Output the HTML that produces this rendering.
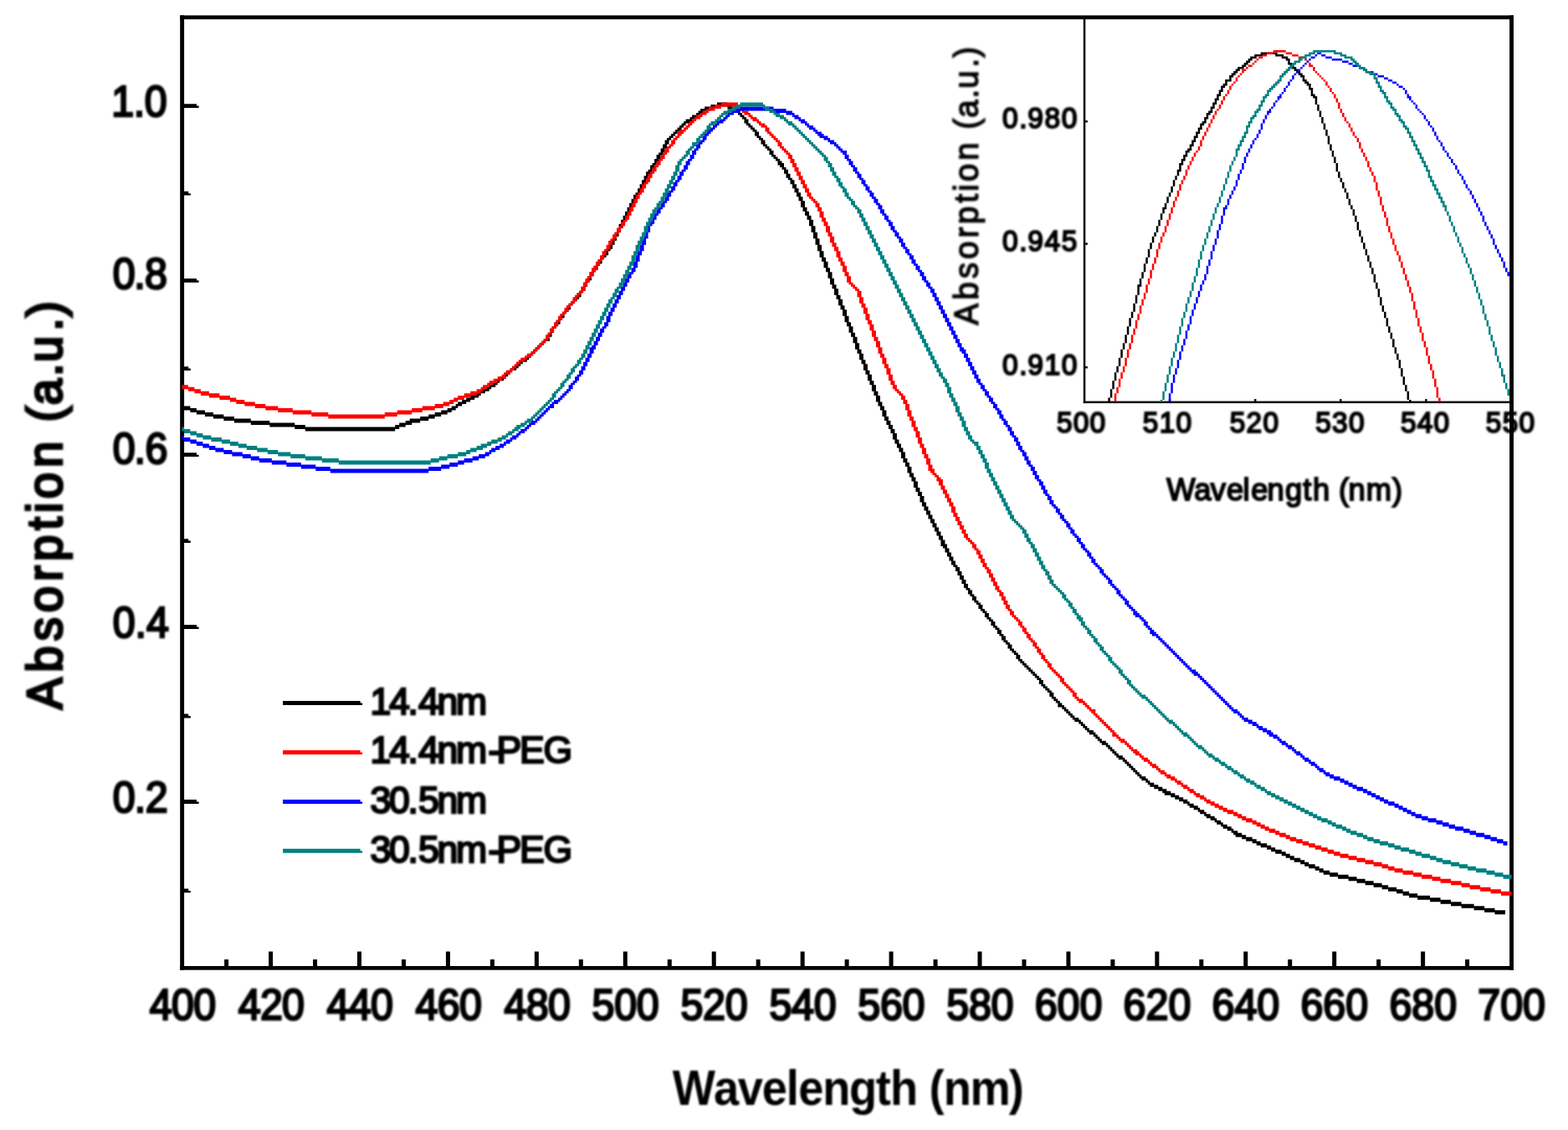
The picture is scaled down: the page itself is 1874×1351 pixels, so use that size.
<!DOCTYPE html>
<html lang="en"><head><meta charset="utf-8"><title>Absorption spectra</title>
<style>
html,body{margin:0;padding:0;background:#fff;}
body{width:1874px;height:1351px;overflow:hidden;}
svg{display:block;}
text{font-family:"Liberation Sans",sans-serif;fill:#000;}
</style></head><body>
<svg width="1874" height="1351" viewBox="0 0 1874 1351">
<rect width="1874" height="1351" fill="#fff"/>
<g>
<rect x="215.2" y="18.4" width="4.9" height="1141.3" fill="#000"/>
<rect x="1804.1" y="18.4" width="4.9" height="1141.3" fill="#000"/>
<rect x="215.2" y="18.4" width="1593.8" height="4.7" fill="#000"/>
<rect x="215.2" y="1155" width="1593.8" height="4.7" fill="#000"/>
<rect x="268.11" y="1147.1" width="5" height="8.4" fill="#000"/>
<rect x="321.08" y="1137.6" width="5" height="17.9" fill="#000"/>
<rect x="374.04" y="1147.1" width="5" height="8.4" fill="#000"/>
<rect x="427" y="1137.6" width="5" height="17.9" fill="#000"/>
<rect x="479.97" y="1147.1" width="5" height="8.4" fill="#000"/>
<rect x="532.93" y="1137.6" width="5" height="17.9" fill="#000"/>
<rect x="585.89" y="1147.1" width="5" height="8.4" fill="#000"/>
<rect x="638.86" y="1137.6" width="5" height="17.9" fill="#000"/>
<rect x="691.82" y="1147.1" width="5" height="8.4" fill="#000"/>
<rect x="744.78" y="1137.6" width="5" height="17.9" fill="#000"/>
<rect x="797.75" y="1147.1" width="5" height="8.4" fill="#000"/>
<rect x="850.71" y="1137.6" width="5" height="17.9" fill="#000"/>
<rect x="903.67" y="1147.1" width="5" height="8.4" fill="#000"/>
<rect x="956.64" y="1137.6" width="5" height="17.9" fill="#000"/>
<rect x="1009.6" y="1147.1" width="5" height="8.4" fill="#000"/>
<rect x="1062.56" y="1137.6" width="5" height="17.9" fill="#000"/>
<rect x="1115.53" y="1147.1" width="5" height="8.4" fill="#000"/>
<rect x="1168.49" y="1137.6" width="5" height="17.9" fill="#000"/>
<rect x="1221.45" y="1147.1" width="5" height="8.4" fill="#000"/>
<rect x="1274.42" y="1137.6" width="5" height="17.9" fill="#000"/>
<rect x="1327.38" y="1147.1" width="5" height="8.4" fill="#000"/>
<rect x="1380.34" y="1137.6" width="5" height="17.9" fill="#000"/>
<rect x="1433.31" y="1147.1" width="5" height="8.4" fill="#000"/>
<rect x="1486.27" y="1137.6" width="5" height="17.9" fill="#000"/>
<rect x="1539.23" y="1147.1" width="5" height="8.4" fill="#000"/>
<rect x="1592.2" y="1137.6" width="5" height="17.9" fill="#000"/>
<rect x="1645.16" y="1147.1" width="5" height="8.4" fill="#000"/>
<rect x="1698.12" y="1137.6" width="5" height="17.9" fill="#000"/>
<rect x="1751.09" y="1147.1" width="5" height="8.4" fill="#000"/>
<path fill="#000" d="M219.6 124.2 L235 124.2 L235 126.6 L237.6 126.6 L237.6 129 L219.6 129 z"/>
<path fill="#000" d="M219.6 228.8 L225.2 228.8 L225.2 231.2 L227.8 231.2 L227.8 233.6 L219.6 233.6 z"/>
<path fill="#000" d="M219.6 332.9 L235 332.9 L235 335.3 L237.6 335.3 L237.6 337.7 L219.6 337.7 z"/>
<path fill="#000" d="M219.6 438.2 L225.2 438.2 L225.2 440.6 L227.8 440.6 L227.8 443 L219.6 443 z"/>
<path fill="#000" d="M219.6 541.3 L235 541.3 L235 543.7 L237.6 543.7 L237.6 546.1 L219.6 546.1 z"/>
<path fill="#000" d="M219.6 644.2 L225.2 644.2 L225.2 646.6 L227.8 646.6 L227.8 649 L219.6 649 z"/>
<path fill="#000" d="M219.6 747.1 L235 747.1 L235 749.5 L237.6 749.5 L237.6 751.9 L219.6 751.9 z"/>
<path fill="#000" d="M219.6 853.6 L225.2 853.6 L225.2 856 L227.8 856 L227.8 858.4 L219.6 858.4 z"/>
<path fill="#000" d="M219.6 956.1 L235 956.1 L235 958.5 L237.6 958.5 L237.6 960.9 L219.6 960.9 z"/>
<path fill="#000" d="M219.6 1062.5 L225.2 1062.5 L225.2 1064.9 L227.8 1064.9 L227.8 1067.3 L219.6 1067.3 z"/>
<path fill="#000000" d="M217.4 485.4H227.4V487.9H217.4zM217.4 487.9H234.9V490.4H217.4zM227.4 490.4H244.9V492.9H227.4zM234.9 492.9H254.9V495.4H234.9zM244.9 495.4H267.4V497.9H244.9zM254.9 497.9H279.9V500.4H254.9zM267.4 500.4H299.8V502.9H267.4zM279.9 502.9H322.3V505.4H279.9zM299.8 505.4H352.3V507.9H299.8zM322.3 507.9H364.8V510.4H322.3zM352.3 510.4H477.2V512.9H352.3zM364.8 512.9H472.2V515.4H364.8zM472.2 507.9H484.7V510.4H472.2zM477.2 505.4H492.2V507.9H477.2zM484.7 502.9H502.2V505.4H484.7zM489.7 500.4H512.2V502.9H489.7zM502.2 497.9H519.7V500.4H502.2zM512.2 495.4H527.2V497.9H512.2zM519.7 492.9H534.7V495.4H519.7zM527.2 490.4H539.7V492.9H527.2zM534.7 487.9H544.7V490.4H534.7zM539.7 485.4H547.2V487.9H539.7zM544.7 482.9H552.2V485.4H544.7zM547.2 480.4H557.2V482.9H547.2zM552.2 477.9H562.2V480.4H552.2zM557.2 475.4H567.2V477.9H557.2zM562.2 472.9H572.2V475.4H562.2zM567.2 470.3H574.7V472.9H567.2zM572.2 467.8H579.7V470.3H572.2zM574.7 465.3H584.7V467.8H574.7zM579.7 462.8H587.2V465.3H579.7zM584.7 460.3H592.2V462.8H584.7zM587.2 457.8H594.7V460.3H587.2zM592.2 455.3H597.2V457.8H592.2zM594.7 452.8H602.2V455.3H594.7zM597.2 450.3H604.7V452.8H597.2zM602.2 447.8H607.2V450.3H602.2zM604.7 445.3H609.7V447.8H604.7zM607.2 442.8H612.2V445.3H607.2zM609.7 440.3H617.2V442.8H609.7zM612.2 437.8H619.7V440.3H612.2zM617.2 435.3H622.2V437.8H617.2zM617.2 432.8H624.7V435.3H617.2zM622.2 430.3H629.7V432.8H622.2zM624.7 427.8H632.2V430.3H624.7zM629.7 425.3H634.7V427.8H629.7zM632.2 422.8H637.2V425.3H632.2zM634.7 420.3H639.7V422.8H634.7zM637.2 417.8H642.2V420.3H637.2zM639.7 415.3H644.7V417.8H639.7zM642.2 412.8H647.2V415.3H642.2zM644.7 410.3H649.7V412.8H644.7zM647.2 407.8H652.2V410.3H647.2zM649.7 405.3H657.1V407.8H649.7zM652.2 402.8H657.1V405.3H652.2zM654.7 397.8H659.6V402.8H654.7zM657.1 392.8H662.1V397.8H657.1zM659.6 390.3H664.6V392.8H659.6zM662.1 387.8H667.1V390.3H662.1zM664.6 382.8H669.6V387.8H664.6zM667.1 380.3H672.1V382.8H667.1zM669.6 375.3H674.6V380.3H669.6zM672.1 372.8H677.1V375.3H672.1zM674.6 370.3H679.6V372.8H674.6zM677.1 365.3H682.1V370.3H677.1zM679.6 362.8H684.6V365.3H679.6zM682.1 360.3H687.1V362.8H682.1zM684.6 357.8H689.6V360.3H684.6zM687.1 355.3H692.1V357.8H687.1zM689.6 350.3H694.6V355.3H689.6zM692.1 347.8H697.1V350.3H692.1zM694.6 342.8H699.6V347.8H694.6zM697.1 337.8H702.1V342.8H697.1zM699.6 335.2H704.6V337.8H699.6zM702.1 330.2H707.1V335.2H702.1zM704.6 325.2H709.6V330.2H704.6zM707.1 322.7H712.1V325.2H707.1zM709.6 317.7H714.6V322.7H709.6zM712.1 315.2H717.1V317.7H712.1zM714.6 310.2H719.6V315.2H714.6zM717.1 307.7H722.1V310.2H717.1zM719.6 305.2H724.6V307.7H719.6zM722.1 300.2H727.1V305.2H722.1zM724.6 297.7H729.6V300.2H724.6zM727.1 292.7H732.1V297.7H727.1zM729.6 287.7H734.6V292.7H729.6zM732.1 282.7H737.1V287.7H732.1zM734.6 277.7H739.6V282.7H734.6zM737.1 272.7H742.1V277.7H737.1zM739.6 267.7H744.6V272.7H739.6zM742.1 262.7H747.1V267.7H742.1zM744.6 257.7H749.6V262.7H744.6zM747.1 252.7H752.1V257.7H747.1zM749.6 247.7H754.6V252.7H749.6zM752.1 242.7H757.1V247.7H752.1zM754.6 237.7H759.6V242.7H754.6zM757.1 232.7H762.1V237.7H757.1zM759.6 230.2H764.6V232.7H759.6zM762.1 225.2H767.1V230.2H762.1zM764.6 220.2H769.6V225.2H764.6zM767.1 215.2H772.1V220.2H767.1zM769.6 210.2H774.6V215.2H769.6zM772.1 207.7H777.1V210.2H772.1zM772.1 205.2H779.6V207.7H772.1zM774.6 202.7H779.6V205.2H774.6zM777.1 197.6H782.1V202.7H777.1zM779.6 195.1H784.6V197.6H779.6zM782.1 190.1H787.1V195.1H782.1zM784.6 185.1H789.6V190.1H784.6zM787.1 182.6H792.1V185.1H787.1zM789.6 177.6H794.6V182.6H789.6zM792.1 172.6H797.1V177.6H792.1zM794.6 167.6H799.6V172.6H794.6zM797.1 165.1H802.1V167.6H797.1zM799.6 162.6H804.6V165.1H799.6zM802.1 160.1H807.1V162.6H802.1zM804.6 157.6H809.6V160.1H804.6zM807.1 155.1H812.1V157.6H807.1zM809.6 152.6H814.6V155.1H809.6zM812.1 150.1H817.1V152.6H812.1zM814.6 147.6H819.6V150.1H814.6zM817.1 145.1H824.6V147.6H817.1zM819.6 142.6H827.1V145.1H819.6zM824.6 140.1H832.1V142.6H824.6zM827.1 137.6H834.6V140.1H827.1zM832.1 135.1H837.1V137.6H832.1zM834.6 132.6H842.1V135.1H834.6zM837.1 130.1H849.5V132.6H837.1zM842.1 127.6H857.0V130.1H842.1zM849.5 125.1H874.5V127.6H849.5zM857.0 122.6H869.5V125.1H857.0zM869.5 127.6H879.5V130.1H869.5zM874.5 130.1H882.0V132.6H874.5zM879.5 132.6H884.5V135.1H879.5zM882.0 135.1H887.0V137.6H882.0zM884.5 137.6H889.5V140.1H884.5zM887.0 140.1H892.0V142.6H887.0zM889.5 142.6H894.5V147.6H889.5zM892.0 147.6H897.0V150.1H892.0zM894.5 150.1H899.5V152.6H894.5zM897.0 152.6H902.0V155.1H897.0zM899.5 155.1H904.5V157.6H899.5zM902.0 157.6H907.0V162.6H902.0zM904.5 162.6H909.5V165.1H904.5zM907.0 165.1H912.0V167.6H907.0zM909.5 167.6H914.5V172.6H909.5zM912.0 172.6H917.0V175.1H912.0zM914.5 175.1H919.5V177.6H914.5zM917.0 177.6H922.0V180.1H917.0zM919.5 180.1H924.5V185.1H919.5zM922.0 185.1H927.0V187.6H922.0zM924.5 187.6H929.5V190.1H924.5zM927.0 190.1H932.0V192.6H927.0zM929.5 192.6H934.5V195.1H929.5zM929.5 195.1H937.0V197.6H929.5zM932.0 197.6H937.0V200.1H932.0zM934.5 200.1H939.5V202.7H934.5zM937.0 202.7H942.0V207.7H937.0zM939.5 207.7H944.5V212.7H939.5zM942.0 212.7H947.0V215.2H942.0zM944.5 215.2H949.5V220.2H944.5zM947.0 220.2H952.0V225.2H947.0zM949.5 225.2H954.5V230.2H949.5zM952.0 230.2H957.0V235.2H952.0zM954.5 235.2H959.5V240.2H954.5zM957.0 240.2H962.0V247.7H957.0zM959.5 247.7H964.5V252.7H959.5zM962.0 252.7H967.0V257.7H962.0zM964.5 257.7H969.5V262.7H964.5zM967.0 262.7H972.0V270.2H967.0zM969.5 270.2H974.5V277.7H969.5zM972.0 277.7H977.0V285.2H972.0zM974.5 285.2H979.5V292.7H974.5zM977.0 292.7H982.0V300.2H977.0zM979.5 300.2H984.5V307.7H979.5zM982.0 307.7H987.0V312.7H982.0zM984.5 312.7H989.5V320.2H984.5zM987.0 320.2H992.0V325.2H987.0zM989.5 325.2H994.5V332.7H989.5zM992.0 332.7H997.0V340.3H992.0zM994.5 340.3H999.5V345.3H994.5zM997.0 345.3H1002.0V352.8H997.0zM999.5 352.8H1004.5V357.8H999.5zM1002.0 357.8H1007.0V365.3H1002.0zM1004.5 365.3H1009.5V370.3H1004.5zM1007.0 370.3H1012.0V377.8H1007.0zM1009.5 377.8H1014.5V385.3H1009.5zM1012.0 385.3H1017.0V390.3H1012.0zM1014.5 390.3H1019.5V397.8H1014.5zM1017.0 397.8H1022.0V402.8H1017.0zM1019.5 402.8H1024.5V410.3H1019.5zM1022.0 410.3H1027.0V417.8H1022.0zM1024.5 417.8H1029.5V422.8H1024.5zM1027.0 422.8H1031.9V430.3H1027.0zM1029.5 430.3H1034.4V435.3H1029.5zM1031.9 435.3H1036.9V442.8H1031.9zM1034.4 442.8H1039.4V447.8H1034.4zM1036.9 447.8H1041.9V455.3H1036.9zM1039.4 455.3H1044.4V460.3H1039.4zM1041.9 460.3H1046.9V467.8H1041.9zM1044.4 467.8H1049.4V472.9H1044.4zM1046.9 472.9H1051.9V480.4H1046.9zM1049.4 480.4H1054.4V485.4H1049.4zM1051.9 485.4H1056.9V490.4H1051.9zM1054.4 490.4H1059.4V497.9H1054.4zM1056.9 497.9H1061.9V502.9H1056.9zM1059.4 502.9H1064.4V507.9H1059.4zM1061.9 507.9H1066.9V512.9H1061.9zM1064.4 512.9H1069.4V517.9H1064.4zM1066.9 517.9H1071.9V525.4H1066.9zM1069.4 525.4H1074.4V530.4H1069.4zM1071.9 530.4H1076.9V535.4H1071.9zM1074.4 535.4H1079.4V540.4H1074.4zM1076.9 540.4H1081.9V547.9H1076.9zM1079.4 547.9H1084.4V552.9H1079.4zM1081.9 552.9H1086.9V557.9H1081.9zM1084.4 557.9H1089.4V565.4H1084.4zM1086.9 565.4H1091.9V570.4H1086.9zM1089.4 570.4H1094.4V575.4H1089.4zM1091.9 575.4H1096.9V582.9H1091.9zM1094.4 582.9H1099.4V587.9H1094.4zM1096.9 587.9H1101.9V592.9H1096.9zM1099.4 592.9H1104.4V600.4H1099.4zM1101.9 600.4H1106.9V605.4H1101.9zM1104.4 605.4H1109.4V610.5H1104.4zM1106.9 610.5H1111.9V615.5H1106.9zM1109.4 615.5H1114.4V620.5H1109.4zM1111.9 620.5H1116.9V625.5H1111.9zM1114.4 625.5H1119.4V630.5H1114.4zM1116.9 630.5H1121.9V635.5H1116.9zM1119.4 635.5H1124.4V640.5H1119.4zM1121.9 640.5H1126.9V645.5H1121.9zM1124.4 645.5H1129.4V650.5H1124.4zM1124.4 650.5H1131.9V653.0H1124.4zM1126.9 653.0H1131.9V655.5H1126.9zM1129.4 655.5H1134.4V660.5H1129.4zM1131.9 660.5H1136.9V665.5H1131.9zM1134.4 665.5H1139.4V670.5H1134.4zM1136.9 670.5H1141.9V675.5H1136.9zM1139.4 675.5H1144.4V678.0H1139.4zM1141.9 678.0H1146.9V683.0H1141.9zM1144.4 683.0H1149.4V688.0H1144.4zM1146.9 688.0H1151.9V693.0H1146.9zM1149.4 693.0H1154.4V698.0H1149.4zM1151.9 698.0H1156.9V703.0H1151.9zM1154.4 703.0H1159.4V705.5H1154.4zM1156.9 705.5H1161.9V710.5H1156.9zM1159.4 710.5H1164.4V713.0H1159.4zM1161.9 713.0H1166.9V718.0H1161.9zM1164.4 718.0H1169.4V720.5H1164.4zM1166.9 720.5H1171.9V723.0H1166.9zM1169.4 723.0H1174.4V728.0H1169.4zM1171.9 728.0H1176.9V730.5H1171.9zM1174.4 730.5H1179.4V733.0H1174.4zM1176.9 733.0H1181.9V738.0H1176.9zM1179.4 738.0H1184.4V740.5H1179.4zM1181.9 740.5H1186.9V743.1H1181.9zM1184.4 743.1H1189.4V748.1H1184.4zM1186.9 748.1H1191.9V750.6H1186.9zM1189.4 750.6H1194.4V753.1H1189.4zM1191.9 753.1H1196.9V758.1H1191.9zM1194.4 758.1H1199.4V760.6H1194.4zM1196.9 760.6H1201.9V765.6H1196.9zM1199.4 765.6H1204.4V768.1H1199.4zM1201.9 768.1H1206.9V770.6H1201.9zM1204.4 770.6H1209.4V775.6H1204.4zM1206.9 775.6H1211.9V778.1H1206.9zM1209.4 778.1H1214.4V780.6H1209.4zM1211.9 780.6H1216.9V783.1H1211.9zM1214.4 783.1H1219.3V788.1H1214.4zM1216.9 788.1H1221.8V790.6H1216.9zM1219.3 790.6H1224.3V793.1H1219.3zM1221.8 793.1H1226.8V795.6H1221.8zM1224.3 795.6H1229.3V798.1H1224.3zM1226.8 798.1H1231.8V800.6H1226.8zM1229.3 800.6H1234.3V803.1H1229.3zM1231.8 803.1H1236.8V805.6H1231.8zM1234.3 805.6H1239.3V808.1H1234.3zM1236.8 808.1H1241.8V810.6H1236.8zM1239.3 810.6H1244.3V813.1H1239.3zM1241.8 813.1H1246.8V818.1H1241.8zM1244.3 818.1H1249.3V820.6H1244.3zM1246.8 820.6H1251.8V823.1H1246.8zM1249.3 823.1H1254.3V825.6H1249.3zM1251.8 825.6H1256.8V828.1H1251.8zM1254.3 828.1H1259.3V833.1H1254.3zM1256.8 833.1H1261.8V835.6H1256.8zM1259.3 835.6H1264.3V838.1H1259.3zM1261.8 838.1H1266.8V840.6H1261.8zM1264.3 840.6H1269.3V843.1H1264.3zM1264.3 843.1H1271.8V845.6H1264.3zM1269.3 845.6H1274.3V848.1H1269.3zM1271.8 848.1H1276.8V850.6H1271.8zM1274.3 850.6H1279.3V853.1H1274.3zM1276.8 853.1H1281.8V855.6H1276.8zM1279.3 855.6H1284.3V858.1H1279.3zM1281.8 858.1H1289.3V860.6H1281.8zM1284.3 860.6H1291.8V863.1H1284.3zM1289.3 863.1H1294.3V865.6H1289.3zM1291.8 865.6H1296.8V868.1H1291.8zM1294.3 868.1H1299.3V870.6H1294.3zM1296.8 870.6H1301.8V873.1H1296.8zM1299.3 873.1H1306.8V875.6H1299.3zM1301.8 875.6H1309.3V878.2H1301.8zM1306.8 878.2H1311.8V880.7H1306.8zM1309.3 880.7H1314.3V883.2H1309.3zM1311.8 883.2H1316.8V885.7H1311.8zM1314.3 885.7H1321.8V888.2H1314.3zM1316.8 888.2H1324.3V890.7H1316.8zM1321.8 890.7H1326.8V893.2H1321.8zM1324.3 893.2H1329.3V895.7H1324.3zM1326.8 895.7H1331.8V898.2H1326.8zM1329.3 898.2H1334.3V900.7H1329.3zM1331.8 900.7H1336.8V903.2H1331.8zM1334.3 903.2H1341.8V905.7H1334.3zM1336.8 905.7H1344.3V908.2H1336.8zM1341.8 908.2H1346.8V910.7H1341.8zM1344.3 910.7H1349.3V913.2H1344.3zM1346.8 913.2H1351.8V915.7H1346.8zM1349.3 915.7H1354.3V918.2H1349.3zM1351.8 918.2H1356.8V920.7H1351.8zM1354.3 920.7H1359.3V923.2H1354.3zM1356.8 923.2H1361.8V925.7H1356.8zM1359.3 925.7H1364.3V928.2H1359.3zM1361.8 928.2H1369.3V930.7H1361.8zM1364.3 930.7H1371.8V933.2H1364.3zM1369.3 933.2H1374.3V935.7H1369.3zM1371.8 935.7H1379.3V938.2H1371.8zM1374.3 938.2H1384.3V940.7H1374.3zM1379.3 940.7H1389.3V943.2H1379.3zM1384.3 943.2H1394.3V945.7H1384.3zM1389.3 945.7H1399.3V948.2H1389.3zM1391.8 948.2H1404.3V950.7H1391.8zM1399.3 950.7H1409.2V953.2H1399.3zM1404.3 953.2H1414.2V955.7H1404.3zM1409.2 955.7H1419.2V958.2H1409.2zM1414.2 958.2H1421.7V960.7H1414.2zM1419.2 960.7H1426.7V963.2H1419.2zM1421.7 963.2H1431.7V965.7H1421.7zM1426.7 965.7H1434.2V968.2H1426.7zM1431.7 968.2H1439.2V970.7H1431.7zM1434.2 970.7H1441.7V973.2H1434.2zM1439.2 973.2H1446.7V975.7H1439.2zM1441.7 975.7H1451.7V978.2H1441.7zM1446.7 978.2H1454.2V980.7H1446.7zM1451.7 980.7H1459.2V983.2H1451.7zM1454.2 983.2H1461.7V985.7H1454.2zM1459.2 985.7H1466.7V988.2H1459.2zM1461.7 988.2H1471.7V990.7H1461.7zM1466.7 990.7H1474.2V993.2H1466.7zM1471.7 993.2H1479.2V995.7H1471.7zM1474.2 995.7H1484.2V998.2H1474.2zM1476.7 998.2H1489.2V1000.7H1476.7zM1484.2 1000.7H1496.7V1003.2H1484.2zM1489.2 1003.2H1501.7V1005.7H1489.2zM1496.7 1005.7H1506.7V1008.2H1496.7zM1501.7 1008.2H1514.2V1010.7H1501.7zM1506.7 1010.7H1519.2V1013.3H1506.7zM1514.2 1013.3H1524.2V1015.8H1514.2zM1519.2 1015.8H1531.7V1018.3H1519.2zM1524.2 1018.3H1536.7V1020.8H1524.2zM1531.7 1020.8H1541.7V1023.3H1531.7zM1536.7 1023.3H1546.7V1025.8H1536.7zM1541.7 1025.8H1554.2V1028.3H1541.7zM1546.7 1028.3H1559.2V1030.8H1546.7zM1554.2 1030.8H1564.2V1033.3H1554.2zM1559.2 1033.3H1571.7V1035.8H1559.2zM1564.2 1035.8H1576.7V1038.3H1564.2zM1571.7 1038.3H1581.7V1040.8H1571.7zM1576.7 1040.8H1589.2V1043.3H1576.7zM1581.7 1043.3H1599.1V1045.8H1581.7zM1589.2 1045.8H1611.6V1048.3H1589.2zM1599.1 1048.3H1621.6V1050.8H1599.1zM1611.6 1050.8H1631.6V1053.3H1611.6zM1621.6 1053.3H1641.6V1055.8H1621.6zM1631.6 1055.8H1651.6V1058.3H1631.6zM1641.6 1058.3H1659.1V1060.8H1641.6zM1651.6 1060.8H1669.1V1063.3H1651.6zM1659.1 1063.3H1676.6V1065.8H1659.1zM1669.1 1065.8H1684.1V1068.3H1669.1zM1676.6 1068.3H1694.1V1070.8H1676.6zM1684.1 1070.8H1709.1V1073.3H1684.1zM1694.1 1073.3H1721.6V1075.8H1694.1zM1709.1 1075.8H1734.1V1078.3H1709.1zM1721.6 1078.3H1746.6V1080.8H1721.6zM1734.1 1080.8H1761.6V1083.3H1734.1zM1746.6 1083.3H1774.1V1085.8H1746.6zM1761.6 1085.8H1786.5V1088.3H1761.6zM1774.1 1088.3H1799.0V1090.8H1774.1zM1786.5 1090.8H1799.0V1093.3H1786.5z"/>
<path fill="#ff0000" d="M217.4 460.3H224.9V462.8H217.4zM217.4 462.8H232.4V465.3H217.4zM224.9 465.3H239.9V467.8H224.9zM232.4 467.8H249.9V470.3H232.4zM239.9 470.3H262.4V472.9H239.9zM249.9 472.9H274.9V475.4H249.9zM262.4 475.4H282.3V477.9H262.4zM274.9 477.9H292.3V480.4H274.9zM282.3 480.4H304.8V482.9H282.3zM292.3 482.9H317.3V485.4H292.3zM304.8 485.4H332.3V487.9H304.8zM317.3 487.9H349.8V490.4H317.3zM332.3 490.4H372.3V492.9H332.3zM349.8 492.9H392.3V495.4H349.8zM372.3 495.4H474.7V497.9H372.3zM392.3 497.9H459.8V500.4H392.3zM459.8 492.9H492.2V495.4H459.8zM474.7 490.4H504.7V492.9H474.7zM492.2 487.9H519.7V490.4H492.2zM504.7 485.4H529.7V487.9H504.7zM519.7 482.9H537.2V485.4H519.7zM529.7 480.4H542.2V482.9H529.7zM537.2 477.9H547.2V480.4H537.2zM542.2 475.4H554.7V477.9H542.2zM547.2 472.9H562.2V475.4H547.2zM554.7 470.3H569.7V472.9H554.7zM562.2 467.8H574.7V470.3H562.2zM569.7 465.3H577.2V467.8H569.7zM574.7 462.8H582.2V465.3H574.7zM577.2 460.3H584.7V462.8H577.2zM582.2 457.8H589.7V460.3H582.2zM584.7 455.3H594.7V457.8H584.7zM589.7 452.8H599.7V455.3H589.7zM594.7 450.3H604.7V452.8H594.7zM599.7 447.8H604.7V450.3H599.7zM602.2 445.3H609.7V447.8H602.2zM604.7 442.8H612.2V445.3H604.7zM609.7 440.3H614.7V442.8H609.7zM612.2 437.8H617.2V440.3H612.2zM614.7 435.3H619.7V437.8H614.7zM617.2 432.8H622.2V435.3H617.2zM619.7 430.3H627.2V432.8H619.7zM622.2 427.8H629.7V430.3H622.2zM627.2 425.3H634.7V427.8H627.2zM629.7 422.8H637.2V425.3H629.7zM634.7 420.3H639.7V422.8H634.7zM637.2 417.8H642.2V420.3H637.2zM639.7 415.3H644.7V417.8H639.7zM642.2 412.8H647.2V415.3H642.2zM644.7 410.3H649.7V412.8H644.7zM647.2 407.8H652.2V410.3H647.2zM649.7 405.3H654.7V407.8H649.7zM652.2 400.3H657.1V405.3H652.2zM654.7 397.8H659.6V400.3H654.7zM657.1 392.8H662.1V397.8H657.1zM659.6 390.3H664.6V392.8H659.6zM662.1 385.3H667.1V390.3H662.1zM664.6 382.8H669.6V385.3H664.6zM667.1 377.8H672.1V382.8H667.1zM669.6 375.3H674.6V377.8H669.6zM672.1 372.8H677.1V375.3H672.1zM674.6 367.8H679.6V372.8H674.6zM677.1 365.3H682.1V367.8H677.1zM679.6 362.8H684.6V365.3H679.6zM682.1 360.3H687.1V362.8H682.1zM684.6 355.3H689.6V360.3H684.6zM687.1 352.8H692.1V355.3H687.1zM689.6 350.3H694.6V352.8H689.6zM692.1 347.8H697.1V350.3H692.1zM694.6 342.8H699.6V347.8H694.6zM697.1 337.8H702.1V342.8H697.1zM699.6 332.7H704.6V337.8H699.6zM702.1 330.2H707.1V332.7H702.1zM704.6 325.2H709.6V330.2H704.6zM707.1 322.7H712.1V325.2H707.1zM707.1 320.2H714.6V322.7H707.1zM709.6 317.7H714.6V320.2H709.6zM712.1 312.7H717.1V317.7H712.1zM714.6 310.2H719.6V312.7H714.6zM717.1 305.2H722.1V310.2H717.1zM719.6 300.2H724.6V305.2H719.6zM722.1 297.7H727.1V300.2H722.1zM724.6 292.7H729.6V297.7H724.6zM727.1 287.7H732.1V292.7H727.1zM729.6 285.2H734.6V287.7H729.6zM732.1 280.2H737.1V285.2H732.1zM734.6 277.7H739.6V280.2H734.6zM737.1 272.7H742.1V277.7H737.1zM739.6 270.2H744.6V272.7H739.6zM742.1 265.2H747.1V270.2H742.1zM744.6 262.7H749.6V265.2H744.6zM747.1 257.7H752.1V262.7H747.1zM749.6 252.7H754.6V257.7H749.6zM752.1 247.7H757.1V252.7H752.1zM754.6 242.7H759.6V247.7H754.6zM757.1 237.7H762.1V242.7H757.1zM759.6 232.7H764.6V237.7H759.6zM762.1 230.2H767.1V232.7H762.1zM764.6 225.2H769.6V230.2H764.6zM767.1 220.2H772.1V225.2H767.1zM769.6 217.7H774.6V220.2H769.6zM772.1 212.7H777.1V217.7H772.1zM774.6 207.7H779.6V212.7H774.6zM777.1 205.2H782.1V207.7H777.1zM779.6 200.1H784.6V205.2H779.6zM782.1 197.6H787.1V200.1H782.1zM784.6 192.6H789.6V197.6H784.6zM787.1 190.1H792.1V192.6H787.1zM789.6 185.1H794.6V190.1H789.6zM792.1 182.6H797.1V185.1H792.1zM794.6 177.6H799.6V182.6H794.6zM797.1 175.1H802.1V177.6H797.1zM799.6 172.6H804.6V175.1H799.6zM802.1 167.6H807.1V172.6H802.1zM804.6 165.1H809.6V167.6H804.6zM807.1 162.6H812.1V165.1H807.1zM809.6 160.1H814.6V162.6H809.6zM809.6 157.6H817.1V160.1H809.6zM812.1 155.1H819.6V157.6H812.1zM817.1 152.6H822.1V155.1H817.1zM819.6 150.1H824.6V152.6H819.6zM822.1 147.6H827.1V150.1H822.1zM824.6 145.1H829.6V147.6H824.6zM827.1 142.6H832.1V145.1H827.1zM829.6 140.1H837.1V142.6H829.6zM832.1 137.6H839.6V140.1H832.1zM837.1 135.1H844.5V137.6H837.1zM839.6 132.6H847.0V135.1H839.6zM844.5 130.1H854.5V132.6H844.5zM847.0 127.6H862.0V130.1H847.0zM854.5 125.1H884.5V127.6H854.5zM862.0 122.6H882.0V125.1H862.0zM879.5 127.6H887.0V130.1H879.5zM884.5 130.1H889.5V132.6H884.5zM887.0 132.6H894.5V135.1H887.0zM889.5 135.1H897.0V137.6H889.5zM894.5 137.6H899.5V140.1H894.5zM897.0 140.1H904.5V142.6H897.0zM899.5 142.6H907.0V145.1H899.5zM904.5 145.1H909.5V147.6H904.5zM907.0 147.6H914.5V150.1H907.0zM909.5 150.1H917.0V152.6H909.5zM914.5 152.6H919.5V157.6H914.5zM917.0 157.6H922.0V160.1H917.0zM919.5 160.1H924.5V162.6H919.5zM922.0 162.6H927.0V165.1H922.0zM924.5 165.1H929.5V167.6H924.5zM927.0 167.6H932.0V170.1H927.0zM929.5 170.1H934.5V175.1H929.5zM932.0 175.1H937.0V177.6H932.0zM934.5 177.6H939.5V180.1H934.5zM937.0 180.1H942.0V182.6H937.0zM939.5 182.6H944.5V185.1H939.5zM942.0 185.1H947.0V190.1H942.0zM944.5 190.1H949.5V195.1H944.5zM947.0 195.1H952.0V200.1H947.0zM949.5 200.1H954.5V205.2H949.5zM952.0 205.2H957.0V210.2H952.0zM954.5 210.2H959.5V215.2H954.5zM957.0 215.2H962.0V220.2H957.0zM959.5 220.2H964.5V225.2H959.5zM962.0 225.2H967.0V230.2H962.0zM964.5 230.2H969.5V235.2H964.5zM967.0 235.2H972.0V237.7H967.0zM969.5 237.7H974.5V240.2H969.5zM972.0 240.2H977.0V242.7H972.0zM974.5 242.7H979.5V247.7H974.5zM977.0 247.7H982.0V252.7H977.0zM979.5 252.7H984.5V260.2H979.5zM982.0 260.2H987.0V265.2H982.0zM984.5 265.2H989.5V270.2H984.5zM987.0 270.2H992.0V277.7H987.0zM989.5 277.7H994.5V282.7H989.5zM992.0 282.7H997.0V290.2H992.0zM994.5 290.2H999.5V295.2H994.5zM997.0 295.2H1002.0V300.2H997.0zM999.5 300.2H1004.5V307.7H999.5zM1002.0 307.7H1007.0V312.7H1002.0zM1004.5 312.7H1009.5V317.7H1004.5zM1007.0 317.7H1012.0V325.2H1007.0zM1009.5 325.2H1014.5V330.2H1009.5zM1012.0 330.2H1017.0V337.8H1012.0zM1014.5 337.8H1019.5V340.3H1014.5zM1017.0 340.3H1022.0V342.8H1017.0zM1019.5 342.8H1024.5V345.3H1019.5zM1022.0 345.3H1027.0V347.8H1022.0zM1024.5 347.8H1029.5V355.3H1024.5zM1027.0 355.3H1031.9V362.8H1027.0zM1029.5 362.8H1034.4V367.8H1029.5zM1031.9 367.8H1036.9V375.3H1031.9zM1034.4 375.3H1039.4V382.8H1034.4zM1036.9 382.8H1041.9V387.8H1036.9zM1039.4 387.8H1044.4V395.3H1039.4zM1041.9 395.3H1046.9V402.8H1041.9zM1044.4 402.8H1049.4V407.8H1044.4zM1046.9 407.8H1051.9V415.3H1046.9zM1049.4 415.3H1054.4V422.8H1049.4zM1051.9 422.8H1056.9V427.8H1051.9zM1054.4 427.8H1059.4V435.3H1054.4zM1056.9 435.3H1061.9V440.3H1056.9zM1059.4 440.3H1064.4V447.8H1059.4zM1061.9 447.8H1066.9V455.3H1061.9zM1064.4 455.3H1069.4V460.3H1064.4zM1066.9 460.3H1071.9V465.3H1066.9zM1069.4 465.3H1074.4V467.8H1069.4zM1071.9 467.8H1076.9V470.3H1071.9zM1074.4 470.3H1079.4V472.9H1074.4zM1076.9 472.9H1081.9V477.9H1076.9zM1079.4 477.9H1084.4V482.9H1079.4zM1081.9 482.9H1086.9V490.4H1081.9zM1084.4 490.4H1089.4V497.9H1084.4zM1086.9 497.9H1091.9V502.9H1086.9zM1089.4 502.9H1094.4V510.4H1089.4zM1091.9 510.4H1096.9V515.4H1091.9zM1094.4 515.4H1099.4V522.9H1094.4zM1096.9 522.9H1101.9V530.4H1096.9zM1099.4 530.4H1104.4V535.4H1099.4zM1101.9 535.4H1106.9V542.9H1101.9zM1104.4 542.9H1109.4V547.9H1104.4zM1106.9 547.9H1111.9V555.4H1106.9zM1109.4 555.4H1114.4V560.4H1109.4zM1109.4 560.4H1116.9V562.9H1109.4zM1111.9 562.9H1116.9V565.4H1111.9zM1114.4 565.4H1119.4V567.9H1114.4zM1116.9 567.9H1121.9V570.4H1116.9zM1119.4 570.4H1124.4V572.9H1119.4zM1119.4 572.9H1126.9V575.4H1119.4zM1121.9 575.4H1126.9V580.4H1121.9zM1124.4 580.4H1129.4V585.4H1124.4zM1126.9 585.4H1131.9V590.4H1126.9zM1129.4 590.4H1134.4V595.4H1129.4zM1131.9 595.4H1136.9V600.4H1131.9zM1134.4 600.4H1139.4V605.4H1134.4zM1136.9 605.4H1141.9V613.0H1136.9zM1139.4 613.0H1144.4V618.0H1139.4zM1141.9 618.0H1146.9V623.0H1141.9zM1144.4 623.0H1149.4V628.0H1144.4zM1146.9 628.0H1151.9V633.0H1146.9zM1149.4 633.0H1154.4V638.0H1149.4zM1151.9 638.0H1156.9V643.0H1151.9zM1154.4 643.0H1159.4V645.5H1154.4zM1156.9 645.5H1161.9V648.0H1156.9zM1159.4 648.0H1164.4V650.5H1159.4zM1161.9 650.5H1166.9V655.5H1161.9zM1164.4 655.5H1169.4V658.0H1164.4zM1166.9 658.0H1171.9V663.0H1166.9zM1169.4 663.0H1174.4V668.0H1169.4zM1171.9 668.0H1176.9V673.0H1171.9zM1174.4 673.0H1179.4V678.0H1174.4zM1176.9 678.0H1181.9V680.5H1176.9zM1179.4 680.5H1184.4V685.5H1179.4zM1181.9 685.5H1186.9V690.5H1181.9zM1184.4 690.5H1189.4V695.5H1184.4zM1186.9 695.5H1191.9V700.5H1186.9zM1189.4 700.5H1194.4V705.5H1189.4zM1191.9 705.5H1196.9V708.0H1191.9zM1194.4 708.0H1199.4V713.0H1194.4zM1196.9 713.0H1201.9V718.0H1196.9zM1199.4 718.0H1204.4V723.0H1199.4zM1201.9 723.0H1206.9V728.0H1201.9zM1204.4 728.0H1209.4V730.5H1204.4zM1206.9 730.5H1211.9V735.5H1206.9zM1209.4 735.5H1214.4V738.0H1209.4zM1211.9 738.0H1216.9V740.5H1211.9zM1214.4 740.5H1219.3V743.1H1214.4zM1216.9 743.1H1221.8V748.1H1216.9zM1219.3 748.1H1224.3V750.6H1219.3zM1221.8 750.6H1226.8V755.6H1221.8zM1224.3 755.6H1229.3V758.1H1224.3zM1226.8 758.1H1231.8V763.1H1226.8zM1229.3 763.1H1234.3V765.6H1229.3zM1231.8 765.6H1236.8V768.1H1231.8zM1234.3 768.1H1239.3V773.1H1234.3zM1236.8 773.1H1241.8V775.6H1236.8zM1239.3 775.6H1244.3V780.6H1239.3zM1241.8 780.6H1246.8V783.1H1241.8zM1244.3 783.1H1249.3V788.1H1244.3zM1246.8 788.1H1251.8V790.6H1246.8zM1249.3 790.6H1254.3V793.1H1249.3zM1251.8 793.1H1256.8V798.1H1251.8zM1254.3 798.1H1259.3V800.6H1254.3zM1256.8 800.6H1261.8V803.1H1256.8zM1259.3 803.1H1264.3V805.6H1259.3zM1261.8 805.6H1266.8V808.1H1261.8zM1264.3 808.1H1269.3V810.6H1264.3zM1266.8 810.6H1271.8V815.6H1266.8zM1269.3 815.6H1274.3V818.1H1269.3zM1271.8 818.1H1276.8V820.6H1271.8zM1274.3 820.6H1279.3V823.1H1274.3zM1276.8 823.1H1281.8V825.6H1276.8zM1279.3 825.6H1284.3V828.1H1279.3zM1281.8 828.1H1286.8V833.1H1281.8zM1284.3 833.1H1289.3V835.6H1284.3zM1286.8 835.6H1294.3V838.1H1286.8zM1289.3 838.1H1296.8V840.6H1289.3zM1294.3 840.6H1299.3V843.1H1294.3zM1296.8 843.1H1301.8V845.6H1296.8zM1299.3 845.6H1304.3V848.1H1299.3zM1301.8 848.1H1309.3V850.6H1301.8zM1304.3 850.6H1309.3V853.1H1304.3zM1306.8 853.1H1311.8V855.6H1306.8zM1309.3 855.6H1314.3V858.1H1309.3zM1311.8 858.1H1316.8V860.6H1311.8zM1314.3 860.6H1319.3V863.1H1314.3zM1316.8 863.1H1321.8V865.6H1316.8zM1319.3 865.6H1324.3V868.1H1319.3zM1321.8 868.1H1326.8V870.6H1321.8zM1324.3 870.6H1329.3V873.1H1324.3zM1326.8 873.1H1331.8V875.6H1326.8zM1329.3 875.6H1334.3V878.2H1329.3zM1329.3 878.2H1336.8V880.7H1329.3zM1334.3 880.7H1339.3V883.2H1334.3zM1336.8 883.2H1344.3V885.7H1336.8zM1339.3 885.7H1346.8V888.2H1339.3zM1344.3 888.2H1349.3V890.7H1344.3zM1346.8 890.7H1351.8V893.2H1346.8zM1349.3 893.2H1354.3V895.7H1349.3zM1351.8 895.7H1359.3V898.2H1351.8zM1354.3 898.2H1361.8V900.7H1354.3zM1356.8 900.7H1364.3V903.2H1356.8zM1361.8 903.2H1366.8V905.7H1361.8zM1364.3 905.7H1371.8V908.2H1364.3zM1366.8 908.2H1374.3V910.7H1366.8zM1371.8 910.7H1376.8V913.2H1371.8zM1374.3 913.2H1381.8V915.7H1374.3zM1376.8 915.7H1384.3V918.2H1376.8zM1381.8 918.2H1386.8V920.7H1381.8zM1384.3 920.7H1391.8V923.2H1384.3zM1386.8 923.2H1394.3V925.7H1386.8zM1391.8 925.7H1399.3V928.2H1391.8zM1394.3 928.2H1404.3V930.7H1394.3zM1399.3 930.7H1406.7V933.2H1399.3zM1404.3 933.2H1411.7V935.7H1404.3zM1406.7 935.7H1414.2V938.2H1406.7zM1411.7 938.2H1419.2V940.7H1411.7zM1414.2 940.7H1421.7V943.2H1414.2zM1419.2 943.2H1426.7V945.7H1419.2zM1421.7 945.7H1429.2V948.2H1421.7zM1426.7 948.2H1434.2V950.7H1426.7zM1429.2 950.7H1439.2V953.2H1429.2zM1434.2 953.2H1441.7V955.7H1434.2zM1439.2 955.7H1446.7V958.2H1439.2zM1441.7 958.2H1451.7V960.7H1441.7zM1446.7 960.7H1456.7V963.2H1446.7zM1451.7 963.2H1461.7V965.7H1451.7zM1456.7 965.7H1466.7V968.2H1456.7zM1461.7 968.2H1474.2V970.7H1461.7zM1466.7 970.7H1479.2V973.2H1466.7zM1474.2 973.2H1484.2V975.7H1474.2zM1479.2 975.7H1489.2V978.2H1479.2zM1484.2 978.2H1496.7V980.7H1484.2zM1489.2 980.7H1501.7V983.2H1489.2zM1496.7 983.2H1506.7V985.7H1496.7zM1501.7 985.7H1511.7V988.2H1501.7zM1506.7 988.2H1516.7V990.7H1506.7zM1511.7 990.7H1524.2V993.2H1511.7zM1516.7 993.2H1529.2V995.7H1516.7zM1524.2 995.7H1536.7V998.2H1524.2zM1529.2 998.2H1541.7V1000.7H1529.2zM1536.7 1000.7H1549.2V1003.2H1536.7zM1541.7 1003.2H1556.7V1005.7H1541.7zM1549.2 1005.7H1564.2V1008.2H1549.2zM1556.7 1008.2H1571.7V1010.7H1556.7zM1564.2 1010.7H1579.2V1013.3H1564.2zM1571.7 1013.3H1586.7V1015.8H1571.7zM1579.2 1015.8H1594.1V1018.3H1579.2zM1586.7 1018.3H1601.6V1020.8H1586.7zM1594.1 1020.8H1611.6V1023.3H1594.1zM1601.6 1023.3H1621.6V1025.8H1601.6zM1611.6 1025.8H1631.6V1028.3H1611.6zM1621.6 1028.3H1641.6V1030.8H1621.6zM1631.6 1030.8H1651.6V1033.3H1631.6zM1641.6 1033.3H1659.1V1035.8H1641.6zM1651.6 1035.8H1666.6V1038.3H1651.6zM1659.1 1038.3H1676.6V1040.8H1659.1zM1666.6 1040.8H1689.1V1043.3H1666.6zM1676.6 1043.3H1699.1V1045.8H1676.6zM1689.1 1045.8H1711.6V1048.3H1689.1zM1699.1 1048.3H1721.6V1050.8H1699.1zM1711.6 1050.8H1734.1V1053.3H1711.6zM1721.6 1053.3H1746.6V1055.8H1721.6zM1734.1 1055.8H1756.6V1058.3H1734.1zM1746.6 1058.3H1769.1V1060.8H1746.6zM1756.6 1060.8H1781.5V1063.3H1756.6zM1769.1 1063.3H1794.0V1065.8H1769.1zM1781.5 1065.8H1806.5V1068.3H1781.5zM1794.0 1068.3H1806.5V1070.8H1794.0z"/>
<path fill="#0000ff" d="M217.4 520.4H219.9V522.9H217.4zM217.4 522.9H227.4V525.4H217.4zM219.9 525.4H234.9V527.9H219.9zM227.4 527.9H242.4V530.4H227.4zM234.9 530.4H249.9V532.9H234.9zM242.4 532.9H257.4V535.4H242.4zM249.9 535.4H267.4V537.9H249.9zM257.4 537.9H277.4V540.4H257.4zM267.4 540.4H289.8V542.9H267.4zM277.4 542.9H299.8V545.4H277.4zM289.8 545.4H309.8V547.9H289.8zM299.8 547.9H324.8V550.4H299.8zM309.8 550.4H342.3V552.9H309.8zM324.8 552.9H359.8V555.4H324.8zM342.3 555.4H377.3V557.9H342.3zM359.8 557.9H394.8V560.4H359.8zM377.3 560.4H527.2V562.9H377.3zM394.8 562.9H512.2V565.4H394.8zM512.2 557.9H537.2V560.4H512.2zM527.2 555.4H547.2V557.9H527.2zM537.2 552.9H554.7V555.4H537.2zM547.2 550.4H564.7V552.9H547.2zM554.7 547.9H572.2V550.4H554.7zM564.7 545.4H579.7V547.9H564.7zM572.2 542.9H584.7V545.4H572.2zM579.7 540.4H587.2V542.9H579.7zM584.7 537.9H592.2V540.4H584.7zM587.2 535.4H597.2V537.9H587.2zM592.2 532.9H602.2V535.4H592.2zM597.2 530.4H604.7V532.9H597.2zM602.2 527.9H609.7V530.4H602.2zM604.7 525.4H612.2V527.9H604.7zM609.7 522.9H617.2V525.4H609.7zM612.2 520.4H619.7V522.9H612.2zM617.2 517.9H622.2V520.4H617.2zM619.7 515.4H627.2V517.9H619.7zM622.2 512.9H629.7V515.4H622.2zM627.2 510.4H632.2V512.9H627.2zM629.7 507.9H634.7V510.4H629.7zM632.2 505.4H639.7V507.9H632.2zM634.7 502.9H642.2V505.4H634.7zM639.7 500.4H644.7V502.9H639.7zM642.2 497.9H647.2V500.4H642.2zM644.7 495.4H649.7V497.9H644.7zM647.2 492.9H652.2V495.4H647.2zM649.7 490.4H654.7V492.9H649.7zM652.2 487.9H657.1V490.4H652.2zM654.7 485.4H662.1V487.9H654.7zM657.1 482.9H662.1V485.4H657.1zM659.6 480.4H667.1V482.9H659.6zM662.1 477.9H669.6V480.4H662.1zM667.1 475.4H672.1V477.9H667.1zM669.6 472.9H674.6V475.4H669.6zM672.1 470.3H677.1V472.9H672.1zM674.6 467.8H679.6V470.3H674.6zM677.1 465.3H682.1V467.8H677.1zM679.6 460.3H684.6V465.3H679.6zM682.1 457.8H687.1V460.3H682.1zM684.6 455.3H689.6V457.8H684.6zM687.1 450.3H692.1V455.3H687.1zM689.6 447.8H694.6V450.3H689.6zM692.1 442.8H697.1V447.8H692.1zM694.6 437.8H699.6V442.8H694.6zM697.1 432.8H702.1V437.8H697.1zM699.6 427.8H704.6V432.8H699.6zM702.1 422.8H707.1V427.8H702.1zM704.6 417.8H709.6V422.8H704.6zM704.6 415.3H712.1V417.8H704.6zM707.1 412.8H712.1V415.3H707.1zM709.6 407.8H714.6V412.8H709.6zM712.1 402.8H717.1V407.8H712.1zM714.6 397.8H719.6V402.8H714.6zM717.1 392.8H722.1V397.8H717.1zM719.6 390.3H724.6V392.8H719.6zM722.1 385.3H727.1V390.3H722.1zM724.6 377.8H729.6V385.3H724.6zM727.1 372.8H732.1V377.8H727.1zM729.6 367.8H734.6V372.8H729.6zM732.1 362.8H737.1V367.8H732.1zM734.6 357.8H739.6V362.8H734.6zM737.1 352.8H742.1V357.8H737.1zM739.6 347.8H744.6V352.8H739.6zM742.1 342.8H747.1V347.8H742.1zM744.6 337.8H749.6V342.8H744.6zM747.1 332.7H752.1V337.8H747.1zM749.6 327.7H754.6V332.7H749.6zM752.1 325.2H757.1V327.7H752.1zM754.6 320.2H759.6V325.2H754.6zM757.1 312.7H762.1V320.2H757.1zM759.6 305.2H764.6V312.7H759.6zM762.1 300.2H767.1V305.2H762.1zM764.6 292.7H769.6V300.2H764.6zM767.1 285.2H772.1V292.7H767.1zM769.6 277.7H774.6V285.2H769.6zM772.1 270.2H777.1V277.7H772.1zM774.6 267.7H779.6V270.2H774.6zM777.1 262.7H782.1V267.7H777.1zM779.6 257.7H784.6V262.7H779.6zM782.1 255.2H787.1V257.7H782.1zM784.6 250.2H789.6V255.2H784.6zM787.1 247.7H792.1V250.2H787.1zM789.6 242.7H794.6V247.7H789.6zM792.1 240.2H797.1V242.7H792.1zM794.6 235.2H799.6V240.2H794.6zM797.1 230.2H802.1V235.2H797.1zM799.6 227.7H804.6V230.2H799.6zM802.1 222.7H807.1V227.7H802.1zM804.6 217.7H809.6V222.7H804.6zM807.1 215.2H812.1V217.7H807.1zM809.6 210.2H814.6V215.2H809.6zM812.1 205.2H817.1V210.2H812.1zM814.6 202.7H819.6V205.2H814.6zM817.1 197.6H822.1V202.7H817.1zM819.6 192.6H824.6V197.6H819.6zM822.1 190.1H827.1V192.6H822.1zM824.6 185.1H829.6V190.1H824.6zM827.1 180.1H832.1V185.1H827.1zM829.6 177.6H834.6V180.1H829.6zM832.1 172.6H837.1V177.6H832.1zM834.6 170.1H839.6V172.6H834.6zM837.1 167.6H842.1V170.1H837.1zM839.6 162.6H844.5V167.6H839.6zM842.1 160.1H847.0V162.6H842.1zM844.5 157.6H849.5V160.1H844.5zM844.5 155.1H852.0V157.6H844.5zM847.0 152.6H854.5V155.1H847.0zM852.0 150.1H857.0V152.6H852.0zM854.5 147.6H859.5V150.1H854.5zM857.0 145.1H864.5V147.6H857.0zM859.5 142.6H867.0V145.1H859.5zM864.5 140.1H869.5V142.6H864.5zM867.0 137.6H872.0V140.1H867.0zM869.5 135.1H877.0V137.6H869.5zM872.0 132.6H884.5V135.1H872.0zM877.0 130.1H939.5V132.6H877.0zM884.5 127.6H924.5V130.1H884.5zM924.5 132.6H947.0V135.1H924.5zM939.5 135.1H949.5V137.6H939.5zM947.0 137.6H954.5V140.1H947.0zM949.5 140.1H957.0V142.6H949.5zM954.5 142.6H962.0V145.1H954.5zM957.0 145.1H964.5V147.6H957.0zM962.0 147.6H967.0V150.1H962.0zM964.5 150.1H972.0V152.6H964.5zM967.0 152.6H974.5V155.1H967.0zM972.0 155.1H977.0V157.6H972.0zM974.5 157.6H982.0V160.1H974.5zM977.0 160.1H984.5V162.6H977.0zM979.5 162.6H989.5V165.1H979.5zM984.5 165.1H992.0V167.6H984.5zM989.5 167.6H997.0V170.1H989.5zM992.0 170.1H999.5V172.6H992.0zM997.0 172.6H1002.0V175.1H997.0zM999.5 175.1H1004.5V177.6H999.5zM1002.0 177.6H1007.0V180.1H1002.0zM1004.5 180.1H1012.0V182.6H1004.5zM1007.0 182.6H1012.0V185.1H1007.0zM1009.5 185.1H1014.5V190.1H1009.5zM1012.0 190.1H1017.0V192.6H1012.0zM1014.5 192.6H1019.5V197.6H1014.5zM1017.0 197.6H1022.0V200.1H1017.0zM1019.5 200.1H1024.5V205.2H1019.5zM1022.0 205.2H1027.0V207.7H1022.0zM1024.5 207.7H1029.5V212.7H1024.5zM1027.0 212.7H1031.9V215.2H1027.0zM1029.5 215.2H1034.4V220.2H1029.5zM1031.9 220.2H1036.9V222.7H1031.9zM1034.4 222.7H1039.4V227.7H1034.4zM1036.9 227.7H1041.9V230.2H1036.9zM1039.4 230.2H1044.4V235.2H1039.4zM1041.9 235.2H1046.9V237.7H1041.9zM1044.4 237.7H1049.4V242.7H1044.4zM1046.9 242.7H1051.9V245.2H1046.9zM1049.4 245.2H1054.4V250.2H1049.4zM1051.9 250.2H1056.9V255.2H1051.9zM1054.4 255.2H1059.4V257.7H1054.4zM1056.9 257.7H1061.9V262.7H1056.9zM1059.4 262.7H1064.4V265.2H1059.4zM1061.9 265.2H1066.9V270.2H1061.9zM1064.4 270.2H1069.4V275.2H1064.4zM1066.9 275.2H1071.9V277.7H1066.9zM1069.4 277.7H1074.4V282.7H1069.4zM1071.9 282.7H1076.9V285.2H1071.9zM1074.4 285.2H1079.4V290.2H1074.4zM1076.9 290.2H1081.9V295.2H1076.9zM1079.4 295.2H1084.4V297.7H1079.4zM1081.9 297.7H1086.9V302.7H1081.9zM1084.4 302.7H1089.4V305.2H1084.4zM1086.9 305.2H1091.9V310.2H1086.9zM1089.4 310.2H1094.4V315.2H1089.4zM1091.9 315.2H1096.9V317.7H1091.9zM1094.4 317.7H1099.4V322.7H1094.4zM1096.9 322.7H1101.9V325.2H1096.9zM1099.4 325.2H1104.4V330.2H1099.4zM1101.9 330.2H1106.9V335.2H1101.9zM1104.4 335.2H1109.4V337.8H1104.4zM1106.9 337.8H1111.9V342.8H1106.9zM1109.4 342.8H1114.4V345.3H1109.4zM1111.9 345.3H1116.9V350.3H1111.9zM1114.4 350.3H1119.4V355.3H1114.4zM1116.9 355.3H1121.9V360.3H1116.9zM1119.4 360.3H1124.4V365.3H1119.4zM1121.9 365.3H1126.9V370.3H1121.9zM1124.4 370.3H1129.4V375.3H1124.4zM1126.9 375.3H1131.9V380.3H1126.9zM1129.4 380.3H1134.4V385.3H1129.4zM1131.9 385.3H1136.9V390.3H1131.9zM1134.4 390.3H1139.4V395.3H1134.4zM1136.9 395.3H1141.9V400.3H1136.9zM1139.4 400.3H1144.4V405.3H1139.4zM1141.9 405.3H1146.9V410.3H1141.9zM1144.4 410.3H1149.4V415.3H1144.4zM1146.9 415.3H1151.9V417.8H1146.9zM1146.9 417.8H1154.4V420.3H1146.9zM1149.4 420.3H1154.4V422.8H1149.4zM1151.9 422.8H1156.9V427.8H1151.9zM1154.4 427.8H1159.4V432.8H1154.4zM1156.9 432.8H1161.9V437.8H1156.9zM1159.4 437.8H1164.4V442.8H1159.4zM1161.9 442.8H1166.9V447.8H1161.9zM1164.4 447.8H1169.4V452.8H1164.4zM1166.9 452.8H1171.9V457.8H1166.9zM1169.4 457.8H1174.4V460.3H1169.4zM1171.9 460.3H1176.9V465.3H1171.9zM1174.4 465.3H1179.4V467.8H1174.4zM1176.9 467.8H1181.9V472.9H1176.9zM1179.4 472.9H1184.4V475.4H1179.4zM1181.9 475.4H1186.9V480.4H1181.9zM1184.4 480.4H1189.4V482.9H1184.4zM1186.9 482.9H1191.9V487.9H1186.9zM1189.4 487.9H1194.4V490.4H1189.4zM1191.9 490.4H1196.9V495.4H1191.9zM1194.4 495.4H1199.4V500.4H1194.4zM1196.9 500.4H1201.9V502.9H1196.9zM1199.4 502.9H1204.4V507.9H1199.4zM1201.9 507.9H1206.9V510.4H1201.9zM1204.4 510.4H1209.4V515.4H1204.4zM1206.9 515.4H1211.9V520.4H1206.9zM1209.4 520.4H1214.4V522.9H1209.4zM1211.9 522.9H1216.9V527.9H1211.9zM1214.4 527.9H1219.3V532.9H1214.4zM1216.9 532.9H1221.8V537.9H1216.9zM1219.3 537.9H1224.3V540.4H1219.3zM1221.8 540.4H1226.8V545.4H1221.8zM1224.3 545.4H1229.3V550.4H1224.3zM1226.8 550.4H1231.8V555.4H1226.8zM1229.3 555.4H1234.3V557.9H1229.3zM1231.8 557.9H1236.8V562.9H1231.8zM1234.3 562.9H1239.3V567.9H1234.3zM1236.8 567.9H1241.8V572.9H1236.8zM1239.3 572.9H1244.3V575.4H1239.3zM1241.8 575.4H1246.8V580.4H1241.8zM1244.3 580.4H1249.3V585.4H1244.3zM1246.8 585.4H1251.8V590.4H1246.8zM1249.3 590.4H1254.3V592.9H1249.3zM1251.8 592.9H1256.8V597.9H1251.8zM1254.3 597.9H1259.3V602.9H1254.3zM1256.8 602.9H1261.8V605.4H1256.8zM1259.3 605.4H1264.3V608.0H1259.3zM1261.8 608.0H1266.8V613.0H1261.8zM1264.3 613.0H1269.3V615.5H1264.3zM1266.8 615.5H1271.8V620.5H1266.8zM1269.3 620.5H1274.3V623.0H1269.3zM1271.8 623.0H1276.8V625.5H1271.8zM1274.3 625.5H1279.3V630.5H1274.3zM1276.8 630.5H1281.8V633.0H1276.8zM1279.3 633.0H1284.3V638.0H1279.3zM1281.8 638.0H1286.8V640.5H1281.8zM1284.3 640.5H1289.3V643.0H1284.3zM1286.8 643.0H1291.8V648.0H1286.8zM1289.3 648.0H1294.3V650.5H1289.3zM1291.8 650.5H1296.8V655.5H1291.8zM1294.3 655.5H1299.3V658.0H1294.3zM1296.8 658.0H1301.8V660.5H1296.8zM1299.3 660.5H1304.3V665.5H1299.3zM1301.8 665.5H1306.8V668.0H1301.8zM1304.3 668.0H1309.3V673.0H1304.3zM1306.8 673.0H1311.8V675.5H1306.8zM1309.3 675.5H1314.3V678.0H1309.3zM1311.8 678.0H1316.8V680.5H1311.8zM1314.3 680.5H1319.3V685.5H1314.3zM1316.8 685.5H1321.8V688.0H1316.8zM1319.3 688.0H1324.3V690.5H1319.3zM1321.8 690.5H1326.8V693.0H1321.8zM1324.3 693.0H1329.3V698.0H1324.3zM1326.8 698.0H1331.8V700.5H1326.8zM1329.3 700.5H1334.3V703.0H1329.3zM1331.8 703.0H1336.8V705.5H1331.8zM1334.3 705.5H1339.3V710.5H1334.3zM1336.8 710.5H1341.8V713.0H1336.8zM1339.3 713.0H1344.3V715.5H1339.3zM1341.8 715.5H1346.8V718.0H1341.8zM1344.3 718.0H1349.3V723.0H1344.3zM1346.8 723.0H1351.8V725.5H1346.8zM1349.3 725.5H1354.3V728.0H1349.3zM1351.8 728.0H1356.8V730.5H1351.8zM1354.3 730.5H1359.3V733.0H1354.3zM1354.3 733.0H1361.8V735.5H1354.3zM1356.8 735.5H1364.3V738.0H1356.8zM1361.8 738.0H1366.8V740.5H1361.8zM1364.3 740.5H1369.3V743.1H1364.3zM1366.8 743.1H1371.8V748.1H1366.8zM1369.3 748.1H1374.3V750.6H1369.3zM1371.8 750.6H1376.8V753.1H1371.8zM1374.3 753.1H1379.3V755.6H1374.3zM1374.3 755.6H1381.8V758.1H1374.3zM1376.8 758.1H1384.3V760.6H1376.8zM1381.8 760.6H1386.8V763.1H1381.8zM1384.3 763.1H1389.3V765.6H1384.3zM1386.8 765.6H1391.8V768.1H1386.8zM1389.3 768.1H1394.3V770.6H1389.3zM1391.8 770.6H1396.8V773.1H1391.8zM1394.3 773.1H1399.3V775.6H1394.3zM1396.8 775.6H1401.8V778.1H1396.8zM1399.3 778.1H1404.3V780.6H1399.3zM1401.8 780.6H1406.7V783.1H1401.8zM1404.3 783.1H1409.2V785.6H1404.3zM1406.7 785.6H1411.7V788.1H1406.7zM1409.2 788.1H1414.2V790.6H1409.2zM1411.7 790.6H1416.7V793.1H1411.7zM1414.2 793.1H1419.2V795.6H1414.2zM1416.7 795.6H1421.7V798.1H1416.7zM1419.2 798.1H1424.2V800.6H1419.2zM1421.7 800.6H1429.2V803.1H1421.7zM1424.2 803.1H1431.7V805.6H1424.2zM1426.7 805.6H1434.2V808.1H1426.7zM1431.7 808.1H1436.7V810.6H1431.7zM1434.2 810.6H1439.2V813.1H1434.2zM1436.7 813.1H1441.7V815.6H1436.7zM1439.2 815.6H1444.2V818.1H1439.2zM1441.7 818.1H1446.7V820.6H1441.7zM1444.2 820.6H1449.2V823.1H1444.2zM1446.7 823.1H1451.7V825.6H1446.7zM1449.2 825.6H1454.2V828.1H1449.2zM1451.7 828.1H1456.7V830.6H1451.7zM1454.2 830.6H1459.2V833.1H1454.2zM1456.7 833.1H1461.7V835.6H1456.7zM1459.2 835.6H1464.2V838.1H1459.2zM1461.7 838.1H1466.7V840.6H1461.7zM1464.2 840.6H1469.2V843.1H1464.2zM1466.7 843.1H1471.7V845.6H1466.7zM1469.2 845.6H1474.2V848.1H1469.2zM1471.7 848.1H1479.2V850.6H1471.7zM1474.2 850.6H1481.7V853.1H1474.2zM1479.2 853.1H1484.2V855.6H1479.2zM1481.7 855.6H1486.7V858.1H1481.7zM1484.2 858.1H1491.7V860.6H1484.2zM1486.7 860.6H1496.7V863.1H1486.7zM1491.7 863.1H1501.7V865.6H1491.7zM1496.7 865.6H1504.2V868.1H1496.7zM1501.7 868.1H1509.2V870.6H1501.7zM1504.2 870.6H1514.2V873.1H1504.2zM1509.2 873.1H1519.2V875.6H1509.2zM1514.2 875.6H1521.7V878.2H1514.2zM1516.7 878.2H1526.7V880.7H1516.7zM1521.7 880.7H1529.2V883.2H1521.7zM1526.7 883.2H1531.7V885.7H1526.7zM1529.2 885.7H1536.7V888.2H1529.2zM1531.7 888.2H1539.2V890.7H1531.7zM1536.7 890.7H1544.2V893.2H1536.7zM1539.2 893.2H1546.7V895.7H1539.2zM1544.2 895.7H1549.2V898.2H1544.2zM1546.7 898.2H1554.2V900.7H1546.7zM1549.2 900.7H1556.7V903.2H1549.2zM1554.2 903.2H1559.2V905.7H1554.2zM1556.7 905.7H1564.2V908.2H1556.7zM1559.2 908.2H1566.7V910.7H1559.2zM1564.2 910.7H1571.7V913.2H1564.2zM1566.7 913.2H1574.2V915.7H1566.7zM1571.7 915.7H1576.7V918.2H1571.7zM1574.2 918.2H1581.7V920.7H1574.2zM1576.7 920.7H1584.2V923.2H1576.7zM1581.7 923.2H1589.2V925.7H1581.7zM1584.2 925.7H1594.1V928.2H1584.2zM1589.2 928.2H1601.6V930.7H1589.2zM1594.1 930.7H1606.6V933.2H1594.1zM1601.6 933.2H1611.6V935.7H1601.6zM1606.6 935.7H1616.6V938.2H1606.6zM1611.6 938.2H1621.6V940.7H1611.6zM1616.6 940.7H1629.1V943.2H1616.6zM1621.6 943.2H1634.1V945.7H1621.6zM1629.1 945.7H1639.1V948.2H1629.1zM1634.1 948.2H1644.1V950.7H1634.1zM1639.1 950.7H1649.1V953.2H1639.1zM1644.1 953.2H1654.1V955.7H1644.1zM1649.1 955.7H1659.1V958.2H1649.1zM1654.1 958.2H1666.6V960.7H1654.1zM1659.1 960.7H1671.6V963.2H1659.1zM1666.6 963.2H1676.6V965.7H1666.6zM1671.6 965.7H1681.6V968.2H1671.6zM1676.6 968.2H1686.6V970.7H1676.6zM1681.6 970.7H1691.6V973.2H1681.6zM1686.6 973.2H1699.1V975.7H1686.6zM1691.6 975.7H1706.6V978.2H1691.6zM1699.1 978.2H1716.6V980.7H1699.1zM1706.6 980.7H1724.1V983.2H1706.6zM1716.6 983.2H1731.6V985.7H1716.6zM1724.1 985.7H1739.1V988.2H1724.1zM1731.6 988.2H1749.1V990.7H1731.6zM1739.1 990.7H1756.6V993.2H1739.1zM1749.1 993.2H1764.1V995.7H1749.1zM1756.6 995.7H1774.1V998.2H1756.6zM1764.1 998.2H1781.5V1000.7H1764.1zM1774.1 1000.7H1789.0V1003.2H1774.1zM1781.5 1003.2H1796.5V1005.7H1781.5zM1789.0 1005.7H1801.5V1008.2H1789.0zM1796.5 1008.2H1801.5V1010.7H1796.5z"/>
<path fill="#008080" d="M217.4 510.4H219.9V512.9H217.4zM217.4 512.9H227.4V515.4H217.4zM219.9 515.4H234.9V517.9H219.9zM227.4 517.9H242.4V520.4H227.4zM234.9 520.4H252.4V522.9H234.9zM242.4 522.9H264.9V525.4H242.4zM252.4 525.4H274.9V527.9H252.4zM264.9 527.9H284.8V530.4H264.9zM274.9 530.4H294.8V532.9H274.9zM284.8 532.9H307.3V535.4H284.8zM294.8 535.4H319.8V537.9H294.8zM307.3 537.9H332.3V540.4H307.3zM319.8 540.4H347.3V542.9H319.8zM332.3 542.9H364.8V545.4H332.3zM347.3 545.4H384.8V547.9H347.3zM364.8 547.9H404.8V550.4H364.8zM384.8 550.4H524.7V552.9H384.8zM404.8 552.9H514.7V555.4H404.8zM514.7 547.9H534.7V550.4H514.7zM524.7 545.4H547.2V547.9H524.7zM534.7 542.9H557.2V545.4H534.7zM547.2 540.4H562.2V542.9H547.2zM557.2 537.9H569.7V540.4H557.2zM562.2 535.4H577.2V537.9H562.2zM569.7 532.9H582.2V535.4H569.7zM574.7 530.4H587.2V532.9H574.7zM582.2 527.9H594.7V530.4H582.2zM587.2 525.4H599.7V527.9H587.2zM594.7 522.9H604.7V525.4H594.7zM599.7 520.4H607.2V522.9H599.7zM604.7 517.9H612.2V520.4H604.7zM607.2 515.4H614.7V517.9H607.2zM612.2 512.9H619.7V515.4H612.2zM614.7 510.4H622.2V512.9H614.7zM617.2 507.9H627.2V510.4H617.2zM622.2 505.4H629.7V507.9H622.2zM627.2 502.9H634.7V505.4H627.2zM629.7 500.4H637.2V502.9H629.7zM634.7 497.9H639.7V500.4H634.7zM637.2 495.4H642.2V497.9H637.2zM639.7 492.9H644.7V495.4H639.7zM642.2 490.4H647.2V492.9H642.2zM644.7 487.9H649.7V490.4H644.7zM647.2 485.4H652.2V487.9H647.2zM649.7 482.9H654.7V485.4H649.7zM652.2 480.4H657.1V482.9H652.2zM654.7 477.9H659.6V480.4H654.7zM657.1 475.4H662.1V477.9H657.1zM659.6 470.3H664.6V475.4H659.6zM662.1 467.8H667.1V470.3H662.1zM664.6 465.3H669.6V467.8H664.6zM667.1 462.8H672.1V465.3H667.1zM669.6 457.8H674.6V462.8H669.6zM672.1 455.3H677.1V457.8H672.1zM674.6 452.8H679.6V455.3H674.6zM677.1 447.8H682.1V452.8H677.1zM679.6 445.3H684.6V447.8H679.6zM682.1 440.3H687.1V445.3H682.1zM684.6 437.8H689.6V440.3H684.6zM687.1 435.3H692.1V437.8H687.1zM689.6 430.3H694.6V435.3H689.6zM692.1 427.8H697.1V430.3H692.1zM694.6 422.8H699.6V427.8H694.6zM697.1 417.8H702.1V422.8H697.1zM699.6 412.8H704.6V417.8H699.6zM702.1 407.8H707.1V412.8H702.1zM704.6 402.8H709.6V407.8H704.6zM707.1 397.8H712.1V402.8H707.1zM709.6 392.8H714.6V397.8H709.6zM712.1 387.8H717.1V392.8H712.1zM714.6 382.8H719.6V387.8H714.6zM717.1 377.8H722.1V382.8H717.1zM719.6 372.8H724.6V377.8H719.6zM722.1 367.8H727.1V372.8H722.1zM724.6 362.8H729.6V367.8H724.6zM727.1 357.8H732.1V362.8H727.1zM729.6 355.3H734.6V357.8H729.6zM732.1 350.3H737.1V355.3H732.1zM734.6 345.3H739.6V350.3H734.6zM737.1 342.8H742.1V345.3H737.1zM739.6 337.8H744.6V342.8H739.6zM742.1 332.7H747.1V337.8H742.1zM744.6 327.7H749.6V332.7H744.6zM747.1 322.7H752.1V327.7H747.1zM749.6 317.7H754.6V322.7H749.6zM752.1 312.7H757.1V317.7H752.1zM754.6 305.2H759.6V312.7H754.6zM757.1 300.2H762.1V305.2H757.1zM759.6 292.7H764.6V300.2H759.6zM762.1 287.7H767.1V292.7H762.1zM764.6 282.7H769.6V287.7H764.6zM767.1 277.7H772.1V282.7H767.1zM769.6 270.2H774.6V277.7H769.6zM772.1 265.2H777.1V270.2H772.1zM774.6 260.2H779.6V265.2H774.6zM777.1 255.2H782.1V260.2H777.1zM779.6 250.2H784.6V255.2H779.6zM782.1 247.7H787.1V250.2H782.1zM784.6 242.7H789.6V247.7H784.6zM787.1 240.2H792.1V242.7H787.1zM789.6 235.2H794.6V240.2H789.6zM792.1 230.2H797.1V235.2H792.1zM794.6 225.2H799.6V230.2H794.6zM797.1 220.2H802.1V225.2H797.1zM799.6 215.2H804.6V220.2H799.6zM802.1 210.2H807.1V215.2H802.1zM804.6 205.2H809.6V210.2H804.6zM807.1 197.6H812.1V205.2H807.1zM809.6 192.6H814.6V197.6H809.6zM812.1 190.1H817.1V192.6H812.1zM814.6 187.6H819.6V190.1H814.6zM817.1 185.1H822.1V187.6H817.1zM819.6 180.1H824.6V185.1H819.6zM822.1 177.6H827.1V180.1H822.1zM824.6 175.1H829.6V177.6H824.6zM827.1 172.6H832.1V175.1H827.1zM827.1 170.1H834.6V172.6H827.1zM832.1 165.1H837.1V170.1H832.1zM834.6 162.6H839.6V165.1H834.6zM837.1 160.1H842.1V162.6H837.1zM839.6 157.6H844.5V160.1H839.6zM842.1 155.1H847.0V157.6H842.1zM844.5 150.1H849.5V155.1H844.5zM847.0 147.6H854.5V150.1H847.0zM849.5 145.1H857.0V147.6H849.5zM854.5 142.6H859.5V145.1H854.5zM857.0 140.1H862.0V142.6H857.0zM859.5 137.6H864.5V140.1H859.5zM862.0 135.1H869.5V137.6H862.0zM864.5 132.6H874.5V135.1H864.5zM869.5 130.1H879.5V132.6H869.5zM874.5 127.6H884.5V130.1H874.5zM879.5 125.1H914.5V127.6H879.5zM884.5 122.6H912.0V125.1H884.5zM912.0 127.6H919.5V130.1H912.0zM914.5 130.1H924.5V132.6H914.5zM919.5 132.6H927.0V135.1H919.5zM924.5 135.1H932.0V137.6H924.5zM927.0 137.6H937.0V140.1H927.0zM932.0 140.1H939.5V142.6H932.0zM937.0 142.6H942.0V145.1H937.0zM939.5 145.1H947.0V147.6H939.5zM942.0 147.6H949.5V150.1H942.0zM947.0 150.1H952.0V152.6H947.0zM949.5 152.6H954.5V155.1H949.5zM952.0 155.1H957.0V157.6H952.0zM954.5 157.6H959.5V160.1H954.5zM957.0 160.1H962.0V162.6H957.0zM959.5 162.6H964.5V165.1H959.5zM962.0 165.1H967.0V167.6H962.0zM964.5 167.6H969.5V170.1H964.5zM967.0 170.1H972.0V172.6H967.0zM969.5 172.6H974.5V175.1H969.5zM972.0 175.1H977.0V177.6H972.0zM974.5 177.6H979.5V180.1H974.5zM977.0 180.1H982.0V182.6H977.0zM979.5 182.6H984.5V185.1H979.5zM982.0 185.1H987.0V187.6H982.0zM984.5 187.6H989.5V192.6H984.5zM987.0 192.6H992.0V195.1H987.0zM989.5 195.1H994.5V200.1H989.5zM992.0 200.1H997.0V205.2H992.0zM994.5 205.2H999.5V210.2H994.5zM997.0 210.2H1002.0V212.7H997.0zM999.5 212.7H1004.5V217.7H999.5zM1002.0 217.7H1007.0V222.7H1002.0zM1004.5 222.7H1009.5V225.2H1004.5zM1007.0 225.2H1012.0V230.2H1007.0zM1009.5 230.2H1014.5V235.2H1009.5zM1012.0 235.2H1017.0V237.7H1012.0zM1014.5 237.7H1019.5V240.2H1014.5zM1017.0 240.2H1022.0V245.2H1017.0zM1019.5 245.2H1024.5V247.7H1019.5zM1022.0 247.7H1027.0V250.2H1022.0zM1024.5 250.2H1029.5V255.2H1024.5zM1027.0 255.2H1031.9V260.2H1027.0zM1029.5 260.2H1034.4V265.2H1029.5zM1031.9 265.2H1036.9V270.2H1031.9zM1034.4 270.2H1039.4V275.2H1034.4zM1036.9 275.2H1041.9V280.2H1036.9zM1039.4 280.2H1044.4V285.2H1039.4zM1041.9 285.2H1046.9V290.2H1041.9zM1044.4 290.2H1049.4V295.2H1044.4zM1046.9 295.2H1051.9V300.2H1046.9zM1049.4 300.2H1054.4V305.2H1049.4zM1051.9 305.2H1056.9V310.2H1051.9zM1054.4 310.2H1059.4V315.2H1054.4zM1056.9 315.2H1061.9V320.2H1056.9zM1059.4 320.2H1064.4V325.2H1059.4zM1061.9 325.2H1066.9V330.2H1061.9zM1064.4 330.2H1069.4V335.2H1064.4zM1066.9 335.2H1071.9V340.3H1066.9zM1069.4 340.3H1074.4V345.3H1069.4zM1071.9 345.3H1076.9V350.3H1071.9zM1074.4 350.3H1079.4V355.3H1074.4zM1076.9 355.3H1081.9V360.3H1076.9zM1079.4 360.3H1084.4V365.3H1079.4zM1081.9 365.3H1086.9V370.3H1081.9zM1084.4 370.3H1089.4V375.3H1084.4zM1086.9 375.3H1091.9V380.3H1086.9zM1089.4 380.3H1094.4V385.3H1089.4zM1091.9 385.3H1096.9V390.3H1091.9zM1094.4 390.3H1099.4V395.3H1094.4zM1096.9 395.3H1101.9V400.3H1096.9zM1099.4 400.3H1104.4V405.3H1099.4zM1101.9 405.3H1106.9V410.3H1101.9zM1104.4 410.3H1109.4V415.3H1104.4zM1106.9 415.3H1111.9V420.3H1106.9zM1109.4 420.3H1114.4V425.3H1109.4zM1111.9 425.3H1116.9V430.3H1111.9zM1114.4 430.3H1119.4V435.3H1114.4zM1116.9 435.3H1121.9V440.3H1116.9zM1119.4 440.3H1124.4V445.3H1119.4zM1121.9 445.3H1126.9V450.3H1121.9zM1124.4 450.3H1129.4V452.8H1124.4zM1126.9 452.8H1131.9V457.8H1126.9zM1129.4 457.8H1134.4V462.8H1129.4zM1131.9 462.8H1136.9V470.3H1131.9zM1134.4 470.3H1139.4V475.4H1134.4zM1136.9 475.4H1141.9V480.4H1136.9zM1139.4 480.4H1144.4V485.4H1139.4zM1141.9 485.4H1146.9V492.9H1141.9zM1144.4 492.9H1149.4V497.9H1144.4zM1146.9 497.9H1151.9V502.9H1146.9zM1149.4 502.9H1154.4V510.4H1149.4zM1151.9 510.4H1156.9V515.4H1151.9zM1154.4 515.4H1159.4V520.4H1154.4zM1156.9 520.4H1161.9V525.4H1156.9zM1159.4 525.4H1164.4V527.9H1159.4zM1161.9 527.9H1169.4V530.4H1161.9zM1164.4 530.4H1169.4V532.9H1164.4zM1166.9 532.9H1171.9V537.9H1166.9zM1169.4 537.9H1174.4V542.9H1169.4zM1171.9 542.9H1176.9V547.9H1171.9zM1174.4 547.9H1179.4V552.9H1174.4zM1176.9 552.9H1181.9V560.4H1176.9zM1179.4 560.4H1184.4V565.4H1179.4zM1181.9 565.4H1186.9V570.4H1181.9zM1184.4 570.4H1189.4V575.4H1184.4zM1186.9 575.4H1191.9V580.4H1186.9zM1189.4 580.4H1194.4V585.4H1189.4zM1191.9 585.4H1196.9V590.4H1191.9zM1194.4 590.4H1199.4V595.4H1194.4zM1196.9 595.4H1201.9V600.4H1196.9zM1199.4 600.4H1204.4V605.4H1199.4zM1201.9 605.4H1206.9V610.5H1201.9zM1204.4 610.5H1209.4V615.5H1204.4zM1206.9 615.5H1211.9V620.5H1206.9zM1209.4 620.5H1214.4V623.0H1209.4zM1211.9 623.0H1216.9V625.5H1211.9zM1214.4 625.5H1219.3V628.0H1214.4zM1216.9 628.0H1221.8V630.5H1216.9zM1219.3 630.5H1224.3V633.0H1219.3zM1221.8 633.0H1226.8V638.0H1221.8zM1224.3 638.0H1229.3V643.0H1224.3zM1226.8 643.0H1231.8V648.0H1226.8zM1229.3 648.0H1234.3V650.5H1229.3zM1231.8 650.5H1236.8V655.5H1231.8zM1234.3 655.5H1239.3V660.5H1234.3zM1236.8 660.5H1241.8V665.5H1236.8zM1239.3 665.5H1244.3V670.5H1239.3zM1241.8 670.5H1246.8V675.5H1241.8zM1244.3 675.5H1249.3V680.5H1244.3zM1246.8 680.5H1251.8V683.0H1246.8zM1249.3 683.0H1254.3V688.0H1249.3zM1251.8 688.0H1256.8V693.0H1251.8zM1254.3 693.0H1259.3V698.0H1254.3zM1256.8 698.0H1261.8V700.5H1256.8zM1259.3 700.5H1264.3V703.0H1259.3zM1261.8 703.0H1266.8V705.5H1261.8zM1264.3 705.5H1269.3V708.0H1264.3zM1266.8 708.0H1271.8V710.5H1266.8zM1269.3 710.5H1274.3V715.5H1269.3zM1271.8 715.5H1276.8V718.0H1271.8zM1274.3 718.0H1279.3V720.5H1274.3zM1276.8 720.5H1281.8V725.5H1276.8zM1279.3 725.5H1284.3V728.0H1279.3zM1281.8 728.0H1286.8V733.0H1281.8zM1284.3 733.0H1289.3V735.5H1284.3zM1286.8 735.5H1291.8V738.0H1286.8zM1286.8 738.0H1294.3V740.5H1286.8zM1289.3 740.5H1294.3V743.1H1289.3zM1291.8 743.1H1296.8V748.1H1291.8zM1294.3 748.1H1299.3V750.6H1294.3zM1296.8 750.6H1301.8V753.1H1296.8zM1299.3 753.1H1304.3V758.1H1299.3zM1301.8 758.1H1306.8V760.6H1301.8zM1304.3 760.6H1309.3V763.1H1304.3zM1306.8 763.1H1311.8V768.1H1306.8zM1309.3 768.1H1314.3V770.6H1309.3zM1311.8 770.6H1316.8V773.1H1311.8zM1314.3 773.1H1319.3V778.1H1314.3zM1316.8 778.1H1321.8V780.6H1316.8zM1319.3 780.6H1324.3V783.1H1319.3zM1321.8 783.1H1326.8V785.6H1321.8zM1324.3 785.6H1329.3V790.6H1324.3zM1326.8 790.6H1331.8V793.1H1326.8zM1329.3 793.1H1334.3V795.6H1329.3zM1331.8 795.6H1336.8V798.1H1331.8zM1334.3 798.1H1339.3V800.6H1334.3zM1336.8 800.6H1341.8V805.6H1336.8zM1339.3 805.6H1344.3V808.1H1339.3zM1341.8 808.1H1346.8V810.6H1341.8zM1344.3 810.6H1349.3V813.1H1344.3zM1346.8 813.1H1351.8V818.1H1346.8zM1349.3 818.1H1354.3V820.6H1349.3zM1351.8 820.6H1356.8V823.1H1351.8zM1354.3 823.1H1359.3V825.6H1354.3zM1356.8 825.6H1361.8V828.1H1356.8zM1359.3 828.1H1364.3V830.6H1359.3zM1361.8 830.6H1369.3V833.1H1361.8zM1364.3 833.1H1371.8V835.6H1364.3zM1369.3 835.6H1374.3V838.1H1369.3zM1371.8 838.1H1376.8V840.6H1371.8zM1374.3 840.6H1379.3V843.1H1374.3zM1376.8 843.1H1381.8V845.6H1376.8zM1379.3 845.6H1384.3V848.1H1379.3zM1381.8 848.1H1386.8V850.6H1381.8zM1384.3 850.6H1389.3V853.1H1384.3zM1386.8 853.1H1391.8V855.6H1386.8zM1389.3 855.6H1394.3V858.1H1389.3zM1391.8 858.1H1396.8V860.6H1391.8zM1394.3 860.6H1401.8V863.1H1394.3zM1396.8 863.1H1404.3V865.6H1396.8zM1401.8 865.6H1406.7V868.1H1401.8zM1404.3 868.1H1409.2V870.6H1404.3zM1406.7 870.6H1411.7V873.1H1406.7zM1409.2 873.1H1414.2V875.6H1409.2zM1411.7 875.6H1419.2V878.2H1411.7zM1414.2 878.2H1421.7V880.7H1414.2zM1419.2 880.7H1424.2V883.2H1419.2zM1421.7 883.2H1426.7V885.7H1421.7zM1424.2 885.7H1429.2V888.2H1424.2zM1426.7 888.2H1431.7V890.7H1426.7zM1429.2 890.7H1436.7V893.2H1429.2zM1431.7 893.2H1439.2V895.7H1431.7zM1436.7 895.7H1441.7V898.2H1436.7zM1439.2 898.2H1444.2V900.7H1439.2zM1441.7 900.7H1449.2V903.2H1441.7zM1444.2 903.2H1451.7V905.7H1444.2zM1449.2 905.7H1456.7V908.2H1449.2zM1451.7 908.2H1459.2V910.7H1451.7zM1456.7 910.7H1464.2V913.2H1456.7zM1459.2 913.2H1466.7V915.7H1459.2zM1464.2 915.7H1471.7V918.2H1464.2zM1466.7 918.2H1474.2V920.7H1466.7zM1471.7 920.7H1479.2V923.2H1471.7zM1474.2 923.2H1481.7V925.7H1474.2zM1479.2 925.7H1486.7V928.2H1479.2zM1481.7 928.2H1489.2V930.7H1481.7zM1486.7 930.7H1494.2V933.2H1486.7zM1489.2 933.2H1499.2V935.7H1489.2zM1494.2 935.7H1501.7V938.2H1494.2zM1499.2 938.2H1506.7V940.7H1499.2zM1501.7 940.7H1511.7V943.2H1501.7zM1506.7 943.2H1514.2V945.7H1506.7zM1511.7 945.7H1519.2V948.2H1511.7zM1514.2 948.2H1524.2V950.7H1514.2zM1519.2 950.7H1529.2V953.2H1519.2zM1524.2 953.2H1534.2V955.7H1524.2zM1529.2 955.7H1539.2V958.2H1529.2zM1534.2 958.2H1544.2V960.7H1534.2zM1539.2 960.7H1549.2V963.2H1539.2zM1544.2 963.2H1554.2V965.7H1544.2zM1549.2 965.7H1559.2V968.2H1549.2zM1554.2 968.2H1564.2V970.7H1554.2zM1559.2 970.7H1569.2V973.2H1559.2zM1564.2 973.2H1574.2V975.7H1564.2zM1569.2 975.7H1579.2V978.2H1569.2zM1574.2 978.2H1586.7V980.7H1574.2zM1579.2 980.7H1591.7V983.2H1579.2zM1586.7 983.2H1596.6V985.7H1586.7zM1591.7 985.7H1604.1V988.2H1591.7zM1596.6 988.2H1609.1V990.7H1596.6zM1604.1 990.7H1614.1V993.2H1604.1zM1609.1 993.2H1621.6V995.7H1609.1zM1614.1 995.7H1629.1V998.2H1614.1zM1621.6 998.2H1634.1V1000.7H1621.6zM1629.1 1000.7H1641.6V1003.2H1629.1zM1634.1 1003.2H1649.1V1005.7H1634.1zM1641.6 1005.7H1659.1V1008.2H1641.6zM1649.1 1008.2H1666.6V1010.7H1649.1zM1659.1 1010.7H1674.1V1013.3H1659.1zM1666.6 1013.3H1684.1V1015.8H1666.6zM1674.1 1015.8H1691.6V1018.3H1674.1zM1684.1 1018.3H1699.1V1020.8H1684.1zM1691.6 1020.8H1709.1V1023.3H1691.6zM1699.1 1023.3H1716.6V1025.8H1699.1zM1709.1 1025.8H1724.1V1028.3H1709.1zM1716.6 1028.3H1734.1V1030.8H1716.6zM1724.1 1030.8H1744.1V1033.3H1724.1zM1734.1 1033.3H1754.1V1035.8H1734.1zM1744.1 1035.8H1764.1V1038.3H1744.1zM1754.1 1038.3H1776.6V1040.8H1754.1zM1764.1 1040.8H1786.5V1043.3H1764.1zM1776.6 1043.3H1796.5V1045.8H1776.6zM1786.5 1045.8H1806.5V1048.3H1786.5zM1796.5 1048.3H1806.5V1050.8H1796.5z"/>
<rect x="1294.8" y="23.1" width="2.5" height="459" fill="#000"/>
<rect x="1294.8" y="479.6" width="509.3" height="2.5" fill="#000"/>
<rect x="1297.1" y="143.95" width="2.7" height="2.5" fill="#000"/>
<rect x="1297.1" y="290.25" width="2.7" height="2.5" fill="#000"/>
<rect x="1297.1" y="437.95" width="2.7" height="2.5" fill="#000"/>
<rect x="1396.75" y="477.1" width="2.5" height="2.7" fill="#000"/>
<rect x="1498.95" y="477.1" width="2.5" height="2.7" fill="#000"/>
<rect x="1601.05" y="477.1" width="2.5" height="2.7" fill="#000"/>
<rect x="1703.15" y="477.1" width="2.5" height="2.7" fill="#000"/>
<path fill="#000000" d="M1324.3 475.4H1326.8V480.4H1324.3zM1326.8 465.3H1329.3V475.4H1326.8zM1329.3 455.3H1331.8V465.3H1329.3zM1331.8 445.3H1334.3V455.3H1331.8zM1334.3 437.8H1336.8V445.3H1334.3zM1336.8 427.8H1339.3V437.8H1336.8zM1339.3 417.8H1341.8V427.8H1339.3zM1341.8 410.3H1344.3V417.8H1341.8zM1344.3 400.3H1346.8V410.3H1344.3zM1346.8 390.3H1349.3V400.3H1346.8zM1349.3 380.3H1351.8V390.3H1349.3zM1351.8 372.8H1354.3V380.3H1351.8zM1354.3 362.8H1356.8V372.8H1354.3zM1356.8 352.8H1359.3V362.8H1356.8zM1359.3 342.8H1361.8V352.8H1359.3zM1359.3 340.3H1364.3V342.8H1359.3zM1361.8 332.7H1364.3V340.3H1361.8zM1364.3 325.2H1366.8V332.7H1364.3zM1366.8 315.2H1369.3V325.2H1366.8zM1369.3 307.7H1371.8V315.2H1369.3zM1371.8 297.7H1374.3V307.7H1371.8zM1374.3 290.2H1376.8V297.7H1374.3zM1376.8 282.7H1379.3V290.2H1376.8zM1379.3 277.7H1381.8V282.7H1379.3zM1381.8 270.2H1384.3V277.7H1381.8zM1384.3 262.7H1386.8V270.2H1384.3zM1386.8 255.2H1389.3V262.7H1386.8zM1389.3 250.2H1391.8V255.2H1389.3zM1389.3 247.7H1394.3V250.2H1389.3zM1391.8 242.7H1394.3V247.7H1391.8zM1394.3 235.2H1396.8V242.7H1394.3zM1396.8 230.2H1399.3V235.2H1396.8zM1399.3 222.7H1401.8V230.2H1399.3zM1401.8 215.2H1404.3V222.7H1401.8zM1404.3 210.2H1406.7V215.2H1404.3zM1406.7 205.2H1409.2V210.2H1406.7zM1406.7 202.7H1411.7V205.2H1406.7zM1409.2 197.6H1411.7V202.7H1409.2zM1409.2 195.1H1414.2V197.6H1409.2zM1411.7 192.6H1414.2V195.1H1411.7zM1411.7 190.1H1416.7V192.6H1411.7zM1414.2 187.6H1416.7V190.1H1414.2zM1414.2 185.1H1419.2V187.6H1414.2zM1416.7 182.6H1419.2V185.1H1416.7zM1416.7 180.1H1421.7V182.6H1416.7zM1419.2 177.6H1424.2V180.1H1419.2zM1421.7 175.1H1424.2V177.6H1421.7zM1421.7 172.6H1426.7V175.1H1421.7zM1424.2 170.1H1426.7V172.6H1424.2zM1424.2 167.6H1429.2V170.1H1424.2zM1426.7 165.1H1429.2V167.6H1426.7zM1426.7 162.6H1431.7V165.1H1426.7zM1429.2 160.1H1431.7V162.6H1429.2zM1429.2 157.6H1434.2V160.1H1429.2zM1431.7 155.1H1434.2V157.6H1431.7zM1431.7 152.6H1436.7V155.1H1431.7zM1434.2 150.1H1436.7V152.6H1434.2zM1434.2 147.6H1439.2V150.1H1434.2zM1436.7 145.1H1441.7V147.6H1436.7zM1439.2 142.6H1441.7V145.1H1439.2zM1439.2 140.1H1444.2V142.6H1439.2zM1441.7 137.6H1444.2V140.1H1441.7zM1441.7 135.1H1446.7V137.6H1441.7zM1444.2 132.6H1449.2V135.1H1444.2zM1446.7 130.1H1449.2V132.6H1446.7zM1446.7 127.6H1451.7V130.1H1446.7zM1449.2 125.1H1451.7V127.6H1449.2zM1449.2 122.6H1454.2V125.1H1449.2zM1451.7 120.1H1454.2V122.6H1451.7zM1451.7 117.6H1456.7V120.1H1451.7zM1454.2 115.1H1456.7V117.6H1454.2zM1454.2 112.6H1459.2V115.1H1454.2zM1456.7 110.1H1459.2V112.6H1456.7zM1456.7 107.6H1461.7V110.1H1456.7zM1459.2 105.1H1461.7V107.6H1459.2zM1459.2 102.6H1464.2V105.1H1459.2zM1461.7 100.1H1466.7V102.6H1461.7zM1464.2 97.6H1466.7V100.1H1464.2zM1464.2 95.1H1471.7V97.6H1464.2zM1469.2 92.6H1471.7V95.1H1469.2zM1469.2 90.1H1474.2V92.6H1469.2zM1471.7 87.6H1476.7V90.1H1471.7zM1474.2 85.1H1479.2V87.6H1474.2zM1476.7 82.6H1481.7V85.1H1476.7zM1479.2 80.1H1486.7V82.6H1479.2zM1484.2 77.6H1489.2V80.1H1484.2zM1486.7 75.1H1491.7V77.6H1486.7zM1489.2 72.6H1494.2V75.1H1489.2zM1491.7 70.1H1496.7V72.6H1491.7zM1494.2 67.5H1501.7V70.1H1494.2zM1499.2 65.0H1509.2V67.5H1499.2zM1506.7 62.5H1526.7V65.0H1506.7zM1524.2 65.0H1534.2V67.5H1524.2zM1531.7 67.5H1539.2V70.1H1531.7zM1536.7 70.1H1541.7V72.6H1536.7zM1539.2 72.6H1541.7V75.1H1539.2zM1539.2 75.1H1544.2V77.6H1539.2zM1541.7 77.6H1546.7V80.1H1541.7zM1544.2 80.1H1549.2V82.6H1544.2zM1546.7 82.6H1551.7V85.1H1546.7zM1549.2 85.1H1554.2V87.6H1549.2zM1551.7 87.6H1556.7V90.1H1551.7zM1554.2 90.1H1559.2V92.6H1554.2zM1556.7 92.6H1559.2V95.1H1556.7zM1556.7 95.1H1561.7V97.6H1556.7zM1559.2 97.6H1564.2V100.1H1559.2zM1561.7 100.1H1566.7V102.6H1561.7zM1564.2 102.6H1566.7V105.1H1564.2zM1564.2 105.1H1569.2V107.6H1564.2zM1566.7 107.6H1569.2V112.6H1566.7zM1566.7 112.6H1571.7V115.1H1566.7zM1569.2 115.1H1574.2V117.6H1569.2zM1571.7 117.6H1574.2V125.1H1571.7zM1574.2 125.1H1576.7V132.6H1574.2zM1576.7 132.6H1579.2V140.1H1576.7zM1579.2 140.1H1581.7V147.6H1579.2zM1581.7 147.6H1584.2V155.1H1581.7zM1584.2 155.1H1586.7V162.6H1584.2zM1586.7 162.6H1589.2V172.6H1586.7zM1589.2 172.6H1591.7V180.1H1589.2zM1591.7 180.1H1594.1V187.6H1591.7zM1594.1 187.6H1596.6V195.1H1594.1zM1596.6 195.1H1599.1V205.2H1596.6zM1599.1 205.2H1601.6V212.7H1599.1zM1601.6 212.7H1604.1V217.7H1601.6zM1604.1 217.7H1606.6V225.2H1604.1zM1606.6 225.2H1609.1V230.2H1606.6zM1609.1 230.2H1611.6V237.7H1609.1zM1611.6 237.7H1614.1V245.2H1611.6zM1614.1 245.2H1616.6V250.2H1614.1zM1616.6 250.2H1619.1V257.7H1616.6zM1619.1 257.7H1621.6V265.2H1619.1zM1621.6 265.2H1624.1V275.2H1621.6zM1624.1 275.2H1626.6V282.7H1624.1zM1626.6 282.7H1629.1V290.2H1626.6zM1629.1 290.2H1631.6V297.7H1629.1zM1631.6 297.7H1634.1V305.2H1631.6zM1634.1 305.2H1636.6V312.7H1634.1zM1636.6 312.7H1639.1V320.2H1636.6zM1639.1 320.2H1641.6V327.7H1639.1zM1641.6 327.7H1644.1V337.8H1641.6zM1644.1 337.8H1646.6V345.3H1644.1zM1646.6 345.3H1649.1V355.3H1646.6zM1649.1 355.3H1651.6V365.3H1649.1zM1651.6 365.3H1654.1V372.8H1651.6zM1654.1 372.8H1656.6V380.3H1654.1zM1656.6 380.3H1659.1V390.3H1656.6zM1659.1 390.3H1661.6V397.8H1659.1zM1661.6 397.8H1664.1V405.3H1661.6zM1664.1 405.3H1666.6V415.3H1664.1zM1666.6 415.3H1669.1V422.8H1666.6zM1669.1 422.8H1671.6V430.3H1669.1zM1671.6 430.3H1674.1V440.3H1671.6zM1674.1 440.3H1676.6V450.3H1674.1zM1676.6 450.3H1679.1V460.3H1676.6zM1679.1 460.3H1681.6V467.8H1679.1zM1681.6 467.8H1684.1V477.9H1681.6zM1684.1 477.9H1686.6V480.4H1684.1z"/>
<path fill="#ff0000" d="M1331.8 470.3H1334.3V480.4H1331.8zM1334.3 462.8H1336.8V470.3H1334.3zM1336.8 452.8H1339.3V462.8H1336.8zM1339.3 445.3H1341.8V452.8H1339.3zM1341.8 437.8H1344.3V445.3H1341.8zM1344.3 427.8H1346.8V437.8H1344.3zM1346.8 417.8H1349.3V427.8H1346.8zM1349.3 410.3H1351.8V417.8H1349.3zM1351.8 400.3H1354.3V410.3H1351.8zM1354.3 392.8H1356.8V400.3H1354.3zM1356.8 382.8H1359.3V392.8H1356.8zM1359.3 375.3H1361.8V382.8H1359.3zM1361.8 365.3H1364.3V375.3H1361.8zM1364.3 357.8H1366.8V365.3H1364.3zM1366.8 350.3H1369.3V357.8H1366.8zM1369.3 340.3H1371.8V350.3H1369.3zM1371.8 332.7H1374.3V340.3H1371.8zM1374.3 322.7H1376.8V332.7H1374.3zM1376.8 315.2H1379.3V322.7H1376.8zM1379.3 307.7H1381.8V315.2H1379.3zM1381.8 297.7H1384.3V307.7H1381.8zM1384.3 290.2H1386.8V297.7H1384.3zM1386.8 282.7H1389.3V290.2H1386.8zM1389.3 277.7H1391.8V282.7H1389.3zM1391.8 270.2H1394.3V277.7H1391.8zM1394.3 262.7H1396.8V270.2H1394.3zM1396.8 255.2H1399.3V262.7H1396.8zM1399.3 247.7H1401.8V255.2H1399.3zM1401.8 240.2H1404.3V247.7H1401.8zM1404.3 235.2H1406.7V240.2H1404.3zM1406.7 227.7H1409.2V235.2H1406.7zM1409.2 220.2H1411.7V227.7H1409.2zM1411.7 215.2H1414.2V220.2H1411.7zM1414.2 210.2H1416.7V215.2H1414.2zM1416.7 202.7H1419.2V210.2H1416.7zM1419.2 197.6H1421.7V202.7H1419.2zM1421.7 192.6H1424.2V197.6H1421.7zM1424.2 187.6H1426.7V192.6H1424.2zM1426.7 182.6H1429.2V187.6H1426.7zM1429.2 180.1H1431.7V182.6H1429.2zM1431.7 175.1H1434.2V180.1H1431.7zM1434.2 167.6H1436.7V175.1H1434.2zM1436.7 162.6H1439.2V167.6H1436.7zM1439.2 157.6H1441.7V162.6H1439.2zM1441.7 152.6H1444.2V157.6H1441.7zM1444.2 147.6H1446.7V152.6H1444.2zM1446.7 142.6H1449.2V147.6H1446.7zM1449.2 137.6H1451.7V142.6H1449.2zM1451.7 132.6H1454.2V137.6H1451.7zM1454.2 130.1H1456.7V132.6H1454.2zM1456.7 125.1H1459.2V130.1H1456.7zM1459.2 120.1H1461.7V125.1H1459.2zM1461.7 115.1H1464.2V120.1H1461.7zM1464.2 112.6H1466.7V115.1H1464.2zM1466.7 107.6H1469.2V112.6H1466.7zM1469.2 102.6H1471.7V107.6H1469.2zM1471.7 100.1H1474.2V102.6H1471.7zM1474.2 97.6H1476.7V100.1H1474.2zM1476.7 92.6H1479.2V97.6H1476.7zM1479.2 90.1H1481.7V92.6H1479.2zM1481.7 87.6H1484.2V90.1H1481.7zM1484.2 85.1H1486.7V87.6H1484.2zM1484.2 82.6H1489.2V85.1H1484.2zM1489.2 80.1H1491.7V82.6H1489.2zM1491.7 77.6H1496.7V80.1H1491.7zM1496.7 75.1H1499.2V77.6H1496.7zM1499.2 72.6H1501.7V75.1H1499.2zM1501.7 70.1H1504.2V72.6H1501.7zM1504.2 67.5H1509.2V70.1H1504.2zM1509.2 65.0H1514.2V67.5H1509.2zM1514.2 62.5H1521.7V65.0H1514.2zM1521.7 60.0H1536.7V62.5H1521.7zM1536.7 62.5H1544.2V65.0H1536.7zM1544.2 65.0H1551.7V67.5H1544.2zM1551.7 67.5H1559.2V70.1H1551.7zM1559.2 70.1H1561.7V72.6H1559.2zM1561.7 72.6H1564.2V75.1H1561.7zM1564.2 75.1H1566.7V77.6H1564.2zM1564.2 77.6H1569.2V80.1H1564.2zM1569.2 80.1H1571.7V85.1H1569.2zM1571.7 85.1H1574.2V87.6H1571.7zM1574.2 87.6H1576.7V90.1H1574.2zM1576.7 90.1H1579.2V92.6H1576.7zM1579.2 92.6H1581.7V95.1H1579.2zM1581.7 95.1H1584.2V97.6H1581.7zM1584.2 97.6H1586.7V102.6H1584.2zM1586.7 102.6H1589.2V105.1H1586.7zM1589.2 105.1H1591.7V110.1H1589.2zM1591.7 110.1H1594.1V112.6H1591.7zM1594.1 112.6H1596.6V117.6H1594.1zM1596.6 117.6H1599.1V122.6H1596.6zM1599.1 122.6H1601.6V130.1H1599.1zM1601.6 130.1H1604.1V135.1H1601.6zM1604.1 135.1H1606.6V140.1H1604.1zM1606.6 140.1H1609.1V145.1H1606.6zM1609.1 145.1H1611.6V147.6H1609.1zM1611.6 147.6H1614.1V152.6H1611.6zM1614.1 152.6H1616.6V157.6H1614.1zM1616.6 157.6H1619.1V162.6H1616.6zM1619.1 162.6H1621.6V165.1H1619.1zM1621.6 165.1H1624.1V170.1H1621.6zM1624.1 170.1H1626.6V177.6H1624.1zM1626.6 177.6H1629.1V182.6H1626.6zM1629.1 182.6H1631.6V187.6H1629.1zM1631.6 187.6H1634.1V192.6H1631.6zM1634.1 192.6H1636.6V200.1H1634.1zM1636.6 200.1H1639.1V205.2H1636.6zM1639.1 205.2H1641.6V210.2H1639.1zM1641.6 210.2H1644.1V217.7H1641.6zM1644.1 217.7H1646.6V227.7H1644.1zM1646.6 227.7H1649.1V235.2H1646.6zM1649.1 235.2H1651.6V245.2H1649.1zM1651.6 245.2H1654.1V252.7H1651.6zM1654.1 252.7H1656.6V260.2H1654.1zM1656.6 260.2H1659.1V270.2H1656.6zM1659.1 270.2H1661.6V277.7H1659.1zM1661.6 277.7H1664.1V285.2H1661.6zM1664.1 285.2H1666.6V292.7H1664.1zM1666.6 292.7H1669.1V300.2H1666.6zM1669.1 300.2H1671.6V305.2H1669.1zM1671.6 305.2H1674.1V312.7H1671.6zM1674.1 312.7H1676.6V320.2H1674.1zM1676.6 320.2H1679.1V327.7H1676.6zM1679.1 327.7H1681.6V335.2H1679.1zM1681.6 335.2H1684.1V342.8H1681.6zM1684.1 342.8H1686.6V350.3H1684.1zM1686.6 350.3H1689.1V360.3H1686.6zM1689.1 360.3H1691.6V370.3H1689.1zM1691.6 370.3H1694.1V380.3H1691.6zM1694.1 380.3H1696.6V390.3H1694.1zM1696.6 390.3H1699.1V397.8H1696.6zM1699.1 397.8H1701.6V407.8H1699.1zM1701.6 407.8H1704.1V415.3H1701.6zM1704.1 415.3H1706.6V425.3H1704.1zM1706.6 425.3H1709.1V435.3H1706.6zM1709.1 435.3H1711.6V442.8H1709.1zM1711.6 442.8H1714.1V452.8H1711.6zM1714.1 452.8H1716.6V462.8H1714.1zM1716.6 462.8H1719.1V475.4H1716.6zM1719.1 475.4H1721.6V480.4H1719.1z"/>
<path fill="#0000ff" d="M1396.8 470.3H1399.3V480.4H1396.8zM1399.3 457.8H1401.8V470.3H1399.3zM1401.8 447.8H1404.3V457.8H1401.8zM1404.3 440.3H1406.7V447.8H1404.3zM1406.7 430.3H1409.2V440.3H1406.7zM1409.2 420.3H1411.7V430.3H1409.2zM1411.7 412.8H1414.2V420.3H1411.7zM1414.2 405.3H1416.7V412.8H1414.2zM1416.7 395.3H1419.2V405.3H1416.7zM1419.2 387.8H1421.7V395.3H1419.2zM1421.7 377.8H1424.2V387.8H1421.7zM1424.2 370.3H1426.7V377.8H1424.2zM1426.7 362.8H1429.2V370.3H1426.7zM1429.2 355.3H1431.7V362.8H1429.2zM1431.7 347.8H1434.2V355.3H1431.7zM1434.2 340.3H1436.7V347.8H1434.2zM1436.7 335.2H1439.2V340.3H1436.7zM1439.2 327.7H1441.7V335.2H1439.2zM1441.7 317.7H1444.2V327.7H1441.7zM1444.2 310.2H1446.7V317.7H1444.2zM1446.7 300.2H1449.2V310.2H1446.7zM1449.2 292.7H1451.7V300.2H1449.2zM1451.7 285.2H1454.2V292.7H1451.7zM1454.2 275.2H1456.7V285.2H1454.2zM1456.7 267.7H1459.2V275.2H1456.7zM1459.2 257.7H1461.7V267.7H1459.2zM1461.7 250.2H1464.2V257.7H1461.7zM1461.7 247.7H1466.7V250.2H1461.7zM1464.2 245.2H1466.7V247.7H1464.2zM1466.7 237.7H1469.2V245.2H1466.7zM1469.2 232.7H1471.7V237.7H1469.2zM1471.7 227.7H1474.2V232.7H1471.7zM1474.2 222.7H1476.7V227.7H1474.2zM1476.7 215.2H1479.2V222.7H1476.7zM1479.2 207.7H1481.7V215.2H1479.2zM1481.7 202.7H1484.2V207.7H1481.7zM1484.2 195.1H1486.7V202.7H1484.2zM1486.7 187.6H1489.2V195.1H1486.7zM1489.2 182.6H1491.7V187.6H1489.2zM1491.7 177.6H1494.2V182.6H1491.7zM1494.2 172.6H1496.7V177.6H1494.2zM1496.7 167.6H1499.2V172.6H1496.7zM1499.2 165.1H1501.7V167.6H1499.2zM1501.7 160.1H1504.2V165.1H1501.7zM1504.2 155.1H1506.7V160.1H1504.2zM1506.7 147.6H1509.2V155.1H1506.7zM1509.2 142.6H1511.7V147.6H1509.2zM1511.7 137.6H1514.2V142.6H1511.7zM1514.2 135.1H1516.7V137.6H1514.2zM1514.2 132.6H1519.2V135.1H1514.2zM1516.7 130.1H1519.2V132.6H1516.7zM1519.2 127.6H1521.7V130.1H1519.2zM1521.7 122.6H1524.2V127.6H1521.7zM1524.2 120.1H1526.7V122.6H1524.2zM1526.7 117.6H1529.2V120.1H1526.7zM1526.7 115.1H1531.7V117.6H1526.7zM1529.2 112.6H1531.7V115.1H1529.2zM1531.7 110.1H1534.2V112.6H1531.7zM1534.2 105.1H1536.7V110.1H1534.2zM1536.7 102.6H1539.2V105.1H1536.7zM1539.2 97.6H1541.7V102.6H1539.2zM1541.7 95.1H1544.2V97.6H1541.7zM1544.2 90.1H1546.7V95.1H1544.2zM1546.7 87.6H1549.2V90.1H1546.7zM1549.2 85.1H1551.7V87.6H1549.2zM1551.7 82.6H1554.2V85.1H1551.7zM1554.2 80.1H1556.7V82.6H1554.2zM1556.7 77.6H1559.2V80.1H1556.7zM1559.2 75.1H1561.7V77.6H1559.2zM1561.7 72.6H1564.2V75.1H1561.7zM1564.2 70.1H1566.7V72.6H1564.2zM1566.7 67.5H1571.7V70.1H1566.7zM1571.7 65.0H1574.2V67.5H1571.7zM1574.2 62.5H1579.2V65.0H1574.2zM1579.2 65.0H1584.2V67.5H1579.2zM1584.2 67.5H1591.7V70.1H1584.2zM1591.7 70.1H1604.1V72.6H1591.7zM1604.1 72.6H1611.6V75.1H1604.1zM1611.6 75.1H1616.6V77.6H1611.6zM1616.6 77.6H1624.1V80.1H1616.6zM1624.1 80.1H1629.1V82.6H1624.1zM1629.1 82.6H1634.1V85.1H1629.1zM1634.1 85.1H1641.6V87.6H1634.1zM1641.6 87.6H1646.6V90.1H1641.6zM1646.6 90.1H1654.1V92.6H1646.6zM1654.1 92.6H1659.1V95.1H1654.1zM1659.1 95.1H1664.1V97.6H1659.1zM1664.1 97.6H1669.1V100.1H1664.1zM1669.1 100.1H1671.6V102.6H1669.1zM1671.6 102.6H1676.6V105.1H1671.6zM1676.6 105.1H1679.1V107.6H1676.6zM1679.1 107.6H1681.6V112.6H1679.1zM1681.6 112.6H1684.1V115.1H1681.6zM1681.6 115.1H1686.6V117.6H1681.6zM1684.1 117.6H1686.6V120.1H1684.1zM1686.6 120.1H1689.1V122.6H1686.6zM1689.1 122.6H1691.6V125.1H1689.1zM1691.6 125.1H1694.1V130.1H1691.6zM1694.1 130.1H1696.6V132.6H1694.1zM1696.6 132.6H1699.1V135.1H1696.6zM1699.1 135.1H1701.6V137.6H1699.1zM1701.6 137.6H1704.1V142.6H1701.6zM1704.1 142.6H1706.6V145.1H1704.1zM1706.6 145.1H1709.1V150.1H1706.6zM1709.1 150.1H1711.6V152.6H1709.1zM1711.6 152.6H1714.1V157.6H1711.6zM1714.1 157.6H1716.6V162.6H1714.1zM1716.6 162.6H1719.1V167.6H1716.6zM1719.1 167.6H1721.6V170.1H1719.1zM1721.6 170.1H1724.1V175.1H1721.6zM1724.1 175.1H1726.6V180.1H1724.1zM1726.6 180.1H1729.1V182.6H1726.6zM1729.1 182.6H1731.6V187.6H1729.1zM1731.6 187.6H1734.1V190.1H1731.6zM1734.1 190.1H1736.6V195.1H1734.1zM1736.6 195.1H1739.1V197.6H1736.6zM1739.1 197.6H1741.6V202.7H1739.1zM1741.6 202.7H1744.1V207.7H1741.6zM1744.1 207.7H1746.6V210.2H1744.1zM1746.6 210.2H1749.1V215.2H1746.6zM1749.1 215.2H1751.6V220.2H1749.1zM1751.6 220.2H1754.1V225.2H1751.6zM1754.1 225.2H1756.6V227.7H1754.1zM1756.6 227.7H1759.1V232.7H1756.6zM1759.1 232.7H1761.6V237.7H1759.1zM1761.6 237.7H1764.1V242.7H1761.6zM1764.1 242.7H1766.6V247.7H1764.1zM1766.6 247.7H1769.1V252.7H1766.6zM1769.1 252.7H1771.6V257.7H1769.1zM1771.6 257.7H1774.1V265.2H1771.6zM1774.1 265.2H1776.6V270.2H1774.1zM1776.6 270.2H1779.1V275.2H1776.6zM1779.1 275.2H1781.5V280.2H1779.1zM1781.5 280.2H1784.0V285.2H1781.5zM1784.0 285.2H1786.5V292.7H1784.0zM1786.5 292.7H1789.0V297.7H1786.5zM1789.0 297.7H1791.5V302.7H1789.0zM1791.5 302.7H1794.0V307.7H1791.5zM1794.0 307.7H1796.5V312.7H1794.0zM1796.5 312.7H1799.0V320.2H1796.5zM1799.0 320.2H1801.5V325.2H1799.0zM1801.5 325.2H1804.0V330.2H1801.5z"/>
<path fill="#008080" d="M1386.8 477.9H1389.3V480.4H1386.8zM1389.3 467.8H1391.8V477.9H1389.3zM1391.8 457.8H1394.3V467.8H1391.8zM1394.3 447.8H1396.8V457.8H1394.3zM1396.8 437.8H1399.3V447.8H1396.8zM1399.3 427.8H1401.8V437.8H1399.3zM1401.8 420.3H1404.3V427.8H1401.8zM1404.3 410.3H1406.7V420.3H1404.3zM1406.7 400.3H1409.2V410.3H1406.7zM1409.2 390.3H1411.7V400.3H1409.2zM1411.7 380.3H1414.2V390.3H1411.7zM1414.2 372.8H1416.7V380.3H1414.2zM1416.7 362.8H1419.2V372.8H1416.7zM1419.2 355.3H1421.7V362.8H1419.2zM1421.7 347.8H1424.2V355.3H1421.7zM1424.2 337.8H1426.7V347.8H1424.2zM1426.7 330.2H1429.2V337.8H1426.7zM1429.2 320.2H1431.7V330.2H1429.2zM1431.7 310.2H1434.2V320.2H1431.7zM1434.2 300.2H1436.7V310.2H1434.2zM1436.7 292.7H1439.2V300.2H1436.7zM1439.2 285.2H1441.7V292.7H1439.2zM1441.7 277.7H1444.2V285.2H1441.7zM1444.2 270.2H1446.7V277.7H1444.2zM1446.7 262.7H1449.2V270.2H1446.7zM1449.2 255.2H1451.7V262.7H1449.2zM1451.7 247.7H1454.2V255.2H1451.7zM1454.2 242.7H1456.7V247.7H1454.2zM1456.7 235.2H1459.2V242.7H1456.7zM1459.2 227.7H1461.7V235.2H1459.2zM1461.7 220.2H1464.2V227.7H1461.7zM1464.2 212.7H1466.7V220.2H1464.2zM1466.7 205.2H1469.2V212.7H1466.7zM1469.2 197.6H1471.7V205.2H1469.2zM1471.7 192.6H1474.2V197.6H1471.7zM1474.2 187.6H1476.7V192.6H1474.2zM1476.7 180.1H1479.2V187.6H1476.7zM1476.7 177.6H1481.7V180.1H1476.7zM1479.2 175.1H1481.7V177.6H1479.2zM1479.2 172.6H1484.2V175.1H1479.2zM1481.7 170.1H1484.2V172.6H1481.7zM1481.7 167.6H1486.7V170.1H1481.7zM1484.2 165.1H1486.7V167.6H1484.2zM1484.2 162.6H1489.2V165.1H1484.2zM1486.7 160.1H1489.2V162.6H1486.7zM1486.7 157.6H1491.7V160.1H1486.7zM1489.2 152.6H1491.7V157.6H1489.2zM1489.2 150.1H1494.2V152.6H1489.2zM1491.7 147.6H1494.2V150.1H1491.7zM1491.7 145.1H1496.7V147.6H1491.7zM1494.2 142.6H1496.7V145.1H1494.2zM1494.2 140.1H1499.2V142.6H1494.2zM1496.7 137.6H1501.7V140.1H1496.7zM1499.2 135.1H1501.7V137.6H1499.2zM1499.2 132.6H1504.2V135.1H1499.2zM1501.7 130.1H1506.7V132.6H1501.7zM1504.2 127.6H1506.7V130.1H1504.2zM1504.2 125.1H1509.2V127.6H1504.2zM1506.7 122.6H1509.2V125.1H1506.7zM1506.7 120.1H1511.7V122.6H1506.7zM1509.2 117.6H1511.7V120.1H1509.2zM1509.2 115.1H1514.2V117.6H1509.2zM1511.7 112.6H1516.7V115.1H1511.7zM1514.2 110.1H1516.7V112.6H1514.2zM1514.2 107.6H1519.2V110.1H1514.2zM1516.7 105.1H1521.7V107.6H1516.7zM1519.2 102.6H1524.2V105.1H1519.2zM1521.7 100.1H1526.7V102.6H1521.7zM1524.2 97.6H1529.2V100.1H1524.2zM1526.7 95.1H1531.7V97.6H1526.7zM1529.2 92.6H1531.7V95.1H1529.2zM1529.2 90.1H1534.2V92.6H1529.2zM1531.7 87.6H1536.7V90.1H1531.7zM1534.2 85.1H1539.2V87.6H1534.2zM1536.7 82.6H1541.7V85.1H1536.7zM1539.2 80.1H1544.2V82.6H1539.2zM1541.7 77.6H1546.7V80.1H1541.7zM1544.2 75.1H1549.2V77.6H1544.2zM1546.7 72.6H1554.2V75.1H1546.7zM1551.7 70.1H1556.7V72.6H1551.7zM1554.2 67.5H1561.7V70.1H1554.2zM1559.2 65.0H1566.7V67.5H1559.2zM1564.2 62.5H1571.7V65.0H1564.2zM1569.2 60.0H1596.6V62.5H1569.2zM1594.1 62.5H1604.1V65.0H1594.1zM1601.6 65.0H1609.1V67.5H1601.6zM1606.6 67.5H1616.6V70.1H1606.6zM1614.1 70.1H1619.1V72.6H1614.1zM1616.6 72.6H1621.6V75.1H1616.6zM1619.1 75.1H1624.1V77.6H1619.1zM1621.6 77.6H1626.6V80.1H1621.6zM1624.1 80.1H1631.6V82.6H1624.1zM1629.1 82.6H1634.1V85.1H1629.1zM1631.6 85.1H1639.1V87.6H1631.6zM1636.6 87.6H1644.1V90.1H1636.6zM1641.6 90.1H1644.1V92.6H1641.6zM1641.6 92.6H1646.6V95.1H1641.6zM1644.1 95.1H1646.6V97.6H1644.1zM1644.1 97.6H1649.1V100.1H1644.1zM1646.6 100.1H1649.1V102.6H1646.6zM1646.6 102.6H1651.6V105.1H1646.6zM1649.1 105.1H1651.6V107.6H1649.1zM1649.1 107.6H1654.1V110.1H1649.1zM1651.6 110.1H1656.6V112.6H1651.6zM1654.1 112.6H1656.6V115.1H1654.1zM1654.1 115.1H1659.1V117.6H1654.1zM1656.6 117.6H1659.1V120.1H1656.6zM1656.6 120.1H1661.6V122.6H1656.6zM1659.1 122.6H1664.1V125.1H1659.1zM1661.6 125.1H1664.1V127.6H1661.6zM1661.6 127.6H1666.6V130.1H1661.6zM1664.1 130.1H1669.1V132.6H1664.1zM1666.6 132.6H1669.1V135.1H1666.6zM1666.6 135.1H1671.6V137.6H1666.6zM1669.1 137.6H1674.1V140.1H1669.1zM1671.6 140.1H1674.1V142.6H1671.6zM1671.6 142.6H1676.6V145.1H1671.6zM1674.1 145.1H1679.1V147.6H1674.1zM1676.6 147.6H1679.1V150.1H1676.6zM1676.6 150.1H1681.6V152.6H1676.6zM1679.1 152.6H1684.1V155.1H1679.1zM1681.6 155.1H1684.1V157.6H1681.6zM1681.6 157.6H1686.6V160.1H1681.6zM1684.1 160.1H1686.6V162.6H1684.1zM1684.1 162.6H1689.1V165.1H1684.1zM1686.6 165.1H1689.1V167.6H1686.6zM1686.6 167.6H1691.6V170.1H1686.6zM1689.1 170.1H1691.6V172.6H1689.1zM1689.1 172.6H1694.1V175.1H1689.1zM1691.6 175.1H1694.1V177.6H1691.6zM1691.6 177.6H1696.6V180.1H1691.6zM1694.1 180.1H1696.6V182.6H1694.1zM1694.1 182.6H1699.1V185.1H1694.1zM1696.6 185.1H1699.1V187.6H1696.6zM1696.6 187.6H1701.6V190.1H1696.6zM1699.1 190.1H1701.6V192.6H1699.1zM1699.1 192.6H1704.1V195.1H1699.1zM1701.6 195.1H1704.1V197.6H1701.6zM1701.6 197.6H1706.6V200.1H1701.6zM1704.1 200.1H1706.6V202.7H1704.1zM1704.1 202.7H1709.1V205.2H1704.1zM1706.6 205.2H1709.1V210.2H1706.6zM1706.6 210.2H1711.6V212.7H1706.6zM1709.1 212.7H1711.6V215.2H1709.1zM1709.1 215.2H1714.1V217.7H1709.1zM1711.6 217.7H1714.1V220.2H1711.6zM1711.6 220.2H1716.6V222.7H1711.6zM1714.1 222.7H1716.6V225.2H1714.1zM1714.1 225.2H1719.1V227.7H1714.1zM1716.6 227.7H1719.1V230.2H1716.6zM1716.6 230.2H1721.6V232.7H1716.6zM1719.1 232.7H1721.6V235.2H1719.1zM1719.1 235.2H1724.1V237.7H1719.1zM1721.6 237.7H1724.1V240.2H1721.6zM1721.6 240.2H1726.6V242.7H1721.6zM1724.1 242.7H1726.6V245.2H1724.1zM1724.1 245.2H1729.1V247.7H1724.1zM1726.6 247.7H1729.1V252.7H1726.6zM1729.1 252.7H1731.6V257.7H1729.1zM1731.6 257.7H1734.1V265.2H1731.6zM1734.1 265.2H1736.6V270.2H1734.1zM1736.6 270.2H1739.1V277.7H1736.6zM1739.1 277.7H1741.6V282.7H1739.1zM1741.6 282.7H1744.1V290.2H1741.6zM1744.1 290.2H1746.6V295.2H1744.1zM1746.6 295.2H1749.1V302.7H1746.6zM1749.1 302.7H1751.6V307.7H1749.1zM1751.6 307.7H1754.1V315.2H1751.6zM1754.1 315.2H1756.6V320.2H1754.1zM1756.6 320.2H1759.1V327.7H1756.6zM1759.1 327.7H1761.6V335.2H1759.1zM1761.6 335.2H1764.1V342.8H1761.6zM1764.1 342.8H1766.6V350.3H1764.1zM1766.6 350.3H1769.1V357.8H1766.6zM1769.1 357.8H1771.6V365.3H1769.1zM1771.6 365.3H1774.1V375.3H1771.6zM1774.1 375.3H1776.6V382.8H1774.1zM1776.6 382.8H1779.1V390.3H1776.6zM1779.1 390.3H1781.5V400.3H1779.1zM1781.5 400.3H1784.0V407.8H1781.5zM1784.0 407.8H1786.5V415.3H1784.0zM1786.5 415.3H1789.0V425.3H1786.5zM1789.0 425.3H1791.5V432.8H1789.0zM1791.5 432.8H1794.0V440.3H1791.5zM1794.0 440.3H1796.5V447.8H1794.0zM1794.0 447.8H1799.0V450.3H1794.0zM1796.5 450.3H1799.0V457.8H1796.5zM1799.0 457.8H1801.5V465.3H1799.0zM1801.5 465.3H1804.0V472.9H1801.5z"/>
<path fill="#000000" d="M338.1 838.1 L430.6 838.1 L430.6 840.6 L433.1 840.6 L433.1 843.1 L338.1 843.1 z"/>
<path fill="#ff0000" d="M338.1 897 L430.6 897 L430.6 899.5 L433.1 899.5 L433.1 902 L338.1 902 z"/>
<path fill="#0000ff" d="M338.1 955.9 L430.6 955.9 L430.6 958.4 L433.1 958.4 L433.1 960.9 L338.1 960.9 z"/>
<path fill="#008080" d="M338.1 1014.8 L430.6 1014.8 L430.6 1017.3 L433.1 1017.3 L433.1 1019.8 L338.1 1019.8 z"/>
</g>
<defs><filter id="soft" x="-2%" y="-2%" width="104%" height="104%"><feGaussianBlur stdDeviation="0.9"/></filter></defs>
<g filter="url(#soft)">
<text x="190.17 218.06 245.95" y="1218.9" font-size="51.5" font-weight="normal" stroke="#000" stroke-width="2.6" stroke-linejoin="miter" transform="scale(0.9400 1)">400</text>
<text x="302.86 330.75 358.64" y="1218.9" font-size="51.5" font-weight="normal" stroke="#000" stroke-width="2.6" stroke-linejoin="miter" transform="scale(0.9400 1)">420</text>
<text x="415.55 443.44 471.33" y="1218.9" font-size="51.5" font-weight="normal" stroke="#000" stroke-width="2.6" stroke-linejoin="miter" transform="scale(0.9400 1)">440</text>
<text x="528.24 556.13 584.02" y="1218.9" font-size="51.5" font-weight="normal" stroke="#000" stroke-width="2.6" stroke-linejoin="miter" transform="scale(0.9400 1)">460</text>
<text x="640.92 668.81 696.7" y="1218.9" font-size="51.5" font-weight="normal" stroke="#000" stroke-width="2.6" stroke-linejoin="miter" transform="scale(0.9400 1)">480</text>
<text x="752.73 781.06 809.39" y="1218.9" font-size="51.5" font-weight="normal" stroke="#000" stroke-width="2.6" stroke-linejoin="miter" transform="scale(0.9400 1)">500</text>
<text x="865.42 893.75 922.08" y="1218.9" font-size="51.5" font-weight="normal" stroke="#000" stroke-width="2.6" stroke-linejoin="miter" transform="scale(0.9400 1)">520</text>
<text x="978.11 1006.44 1034.77" y="1218.9" font-size="51.5" font-weight="normal" stroke="#000" stroke-width="2.6" stroke-linejoin="miter" transform="scale(0.9400 1)">540</text>
<text x="1090.79 1119.13 1147.46" y="1218.9" font-size="51.5" font-weight="normal" stroke="#000" stroke-width="2.6" stroke-linejoin="miter" transform="scale(0.9400 1)">560</text>
<text x="1203.48 1231.81 1260.14" y="1218.9" font-size="51.5" font-weight="normal" stroke="#000" stroke-width="2.6" stroke-linejoin="miter" transform="scale(0.9400 1)">580</text>
<text x="1315.62 1344.22 1372.83" y="1218.9" font-size="51.5" font-weight="normal" stroke="#000" stroke-width="2.6" stroke-linejoin="miter" transform="scale(0.9400 1)">600</text>
<text x="1428.31 1456.91 1485.52" y="1218.9" font-size="51.5" font-weight="normal" stroke="#000" stroke-width="2.6" stroke-linejoin="miter" transform="scale(0.9400 1)">620</text>
<text x="1540.99 1569.6 1598.21" y="1218.9" font-size="51.5" font-weight="normal" stroke="#000" stroke-width="2.6" stroke-linejoin="miter" transform="scale(0.9400 1)">640</text>
<text x="1653.68 1682.29 1710.9" y="1218.9" font-size="51.5" font-weight="normal" stroke="#000" stroke-width="2.6" stroke-linejoin="miter" transform="scale(0.9400 1)">660</text>
<text x="1766.37 1794.98 1823.58" y="1218.9" font-size="51.5" font-weight="normal" stroke="#000" stroke-width="2.6" stroke-linejoin="miter" transform="scale(0.9400 1)">680</text>
<text x="1879.03 1907.65 1936.27" y="1218.9" font-size="51.5" font-weight="normal" stroke="#000" stroke-width="2.6" stroke-linejoin="miter" transform="scale(0.9400 1)">700</text>
<text x="141.85 169.88 183.88" y="139" font-size="51.5" font-weight="normal" stroke="#000" stroke-width="2.6" stroke-linejoin="miter" transform="scale(0.9400 1)">1.0</text>
<text x="143.33 170.52 184.1" y="344.9" font-size="51.5" font-weight="normal" stroke="#000" stroke-width="2.6" stroke-linejoin="miter" transform="scale(0.9400 1)">0.8</text>
<text x="143.33 170.82 184.56" y="553.6" font-size="51.5" font-weight="normal" stroke="#000" stroke-width="2.6" stroke-linejoin="miter" transform="scale(0.9400 1)">0.6</text>
<text x="143.33 171.88 186.14" y="762.1" font-size="51.5" font-weight="normal" stroke="#000" stroke-width="2.6" stroke-linejoin="miter" transform="scale(0.9400 1)">0.4</text>
<text x="143.33 171.04 184.88" y="970.8" font-size="51.5" font-weight="normal" stroke="#000" stroke-width="2.6" stroke-linejoin="miter" transform="scale(0.9400 1)">0.2</text>
<text x="873.64 927.05 958.53 990 1021.47 1037.2 1068.67 1103.24 1137.81 1156.66 1191.22 1206.95 1225.79 1260.36 1310.68" y="1321.4" font-size="59" font-weight="bold" transform="scale(0.9200 1)">Wavelength (nm)</text>
<text x="0 46.53 85.89 121.73 161.08 186.16 225.52 246.97 264.88 304.24 343.59 361.5 382.95 418.79 436.69 476.05 493.95" y="0" font-size="59.5" font-weight="normal" stroke="#000" stroke-width="3.2" stroke-linejoin="miter" transform="translate(73.8 847.99) rotate(-90) scale(0.9500 1)">Absorption (a.u.)</text>
<text x="442.6 465.1 487.6 500.1 522.6 545.1" y="853.5" font-size="44.5" font-weight="normal" stroke="#000" stroke-width="2.4" stroke-linejoin="miter">14.4nm</text>
<text x="442.6 465.1 487.6 500.1 522.6 545.1 583.6 593.6 621.1 649.6" y="912.3" font-size="44.5" font-weight="normal" stroke="#000" stroke-width="2.4" stroke-linejoin="miter">14.4nm-PEG</text>
<text x="442.6 465.1 487.6 500.1 522.6 545.1" y="971.5" font-size="44.5" font-weight="normal" stroke="#000" stroke-width="2.4" stroke-linejoin="miter">30.5nm</text>
<text x="442.6 465.1 487.6 500.1 522.6 545.1 583.6 593.6 621.1 649.6" y="1030.7" font-size="44.5" font-weight="normal" stroke="#000" stroke-width="2.4" stroke-linejoin="miter">30.5nm-PEG</text>
<text x="1235.01 1255.86 1266.27 1287.12 1307.96" y="152.9" font-size="34.5" font-weight="normal" stroke="#000" stroke-width="2" stroke-linejoin="miter" transform="scale(0.9700 1)">0.980</text>
<text x="1235.01 1255.89 1266.32 1287.19 1308.07" y="300.5" font-size="34.5" font-weight="normal" stroke="#000" stroke-width="2" stroke-linejoin="miter" transform="scale(0.9700 1)">0.945</text>
<text x="1235.01 1255.86 1266.27 1287.12 1307.96" y="447.7" font-size="34.5" font-weight="normal" stroke="#000" stroke-width="2" stroke-linejoin="miter" transform="scale(0.9700 1)">0.910</text>
<text x="1301.99 1322.45 1342.91" y="517" font-size="34.5" font-weight="normal" stroke="#000" stroke-width="2" stroke-linejoin="miter" transform="scale(0.9700 1)">500</text>
<text x="1408.07 1428.53 1449" y="517" font-size="34.5" font-weight="normal" stroke="#000" stroke-width="2" stroke-linejoin="miter" transform="scale(0.9700 1)">510</text>
<text x="1515.19 1535.65 1556.11" y="517" font-size="34.5" font-weight="normal" stroke="#000" stroke-width="2" stroke-linejoin="miter" transform="scale(0.9700 1)">520</text>
<text x="1620.86 1641.32 1661.78" y="517" font-size="34.5" font-weight="normal" stroke="#000" stroke-width="2" stroke-linejoin="miter" transform="scale(0.9700 1)">530</text>
<text x="1725.7 1746.16 1766.62" y="517" font-size="34.5" font-weight="normal" stroke="#000" stroke-width="2" stroke-linejoin="miter" transform="scale(0.9700 1)">540</text>
<text x="1830.75 1851.21 1871.68" y="517" font-size="34.5" font-weight="normal" stroke="#000" stroke-width="2" stroke-linejoin="miter" transform="scale(0.9700 1)">550</text>
<text x="1437.38 1471.36 1491.38 1511.4 1531.42 1541.42 1561.44 1583.43 1605.42 1617.41 1639.4 1649.4 1661.39 1683.37 1715.38" y="598.4" font-size="37.5" font-weight="normal" stroke="#000" stroke-width="1.9" stroke-linejoin="miter" transform="scale(0.9700 1)">Wavelength (nm)</text>
<text x="0 31.71 58.54 82.96 109.79 126.88 153.7 168.33 180.53 207.35 234.18 246.38 261.01 285.43 297.63 324.46 336.66" y="0" font-size="40.5" font-weight="normal" stroke="#000" stroke-width="1.5" stroke-linejoin="miter" transform="translate(1168.8 388.66) rotate(-90) scale(0.9500 1)">Absorption (a.u.)</text>
</g>
</svg>
</body></html>
